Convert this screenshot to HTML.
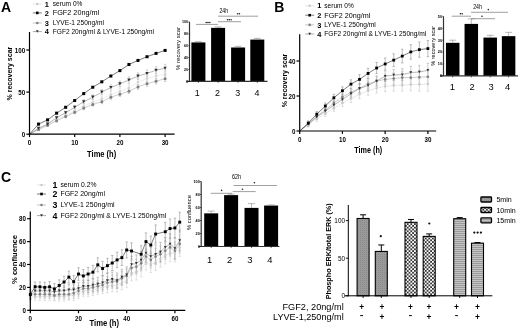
<!DOCTYPE html>
<html><head><meta charset="utf-8"><style>
html,body{margin:0;padding:0;background:#fff;width:520px;height:330px;overflow:hidden}
svg{display:block;will-change:transform}
text{font-family:"Liberation Sans", sans-serif}
</style></head><body>
<svg width="520" height="330" viewBox="0 0 520 330">
<rect width="520" height="330" fill="#fff"/>
<text x="0.90" y="12.14" font-size="14.0" font-weight="bold" text-anchor="start" fill="#000">A</text>
<line x1="38.54" y1="127.68" x2="38.54" y2="130.61" stroke="#d0d0d0" stroke-width="0.6"/>
<line x1="37.34" y1="127.68" x2="39.74" y2="127.68" stroke="#d0d0d0" stroke-width="0.6"/>
<line x1="37.34" y1="130.61" x2="39.74" y2="130.61" stroke="#d0d0d0" stroke-width="0.6"/>
<line x1="47.58" y1="123.27" x2="47.58" y2="126.61" stroke="#d0d0d0" stroke-width="0.6"/>
<line x1="46.38" y1="123.27" x2="48.78" y2="123.27" stroke="#d0d0d0" stroke-width="0.6"/>
<line x1="46.38" y1="126.61" x2="48.78" y2="126.61" stroke="#d0d0d0" stroke-width="0.6"/>
<line x1="56.62" y1="118.02" x2="56.62" y2="121.76" stroke="#d0d0d0" stroke-width="0.6"/>
<line x1="55.42" y1="118.02" x2="57.82" y2="118.02" stroke="#d0d0d0" stroke-width="0.6"/>
<line x1="55.42" y1="121.76" x2="57.82" y2="121.76" stroke="#d0d0d0" stroke-width="0.6"/>
<line x1="65.66" y1="113.18" x2="65.66" y2="117.33" stroke="#d0d0d0" stroke-width="0.6"/>
<line x1="64.46" y1="113.18" x2="66.86" y2="113.18" stroke="#d0d0d0" stroke-width="0.6"/>
<line x1="64.46" y1="117.33" x2="66.86" y2="117.33" stroke="#d0d0d0" stroke-width="0.6"/>
<line x1="74.70" y1="108.35" x2="74.70" y2="112.90" stroke="#d0d0d0" stroke-width="0.6"/>
<line x1="73.50" y1="108.35" x2="75.90" y2="108.35" stroke="#d0d0d0" stroke-width="0.6"/>
<line x1="73.50" y1="112.90" x2="75.90" y2="112.90" stroke="#d0d0d0" stroke-width="0.6"/>
<line x1="83.74" y1="103.52" x2="83.74" y2="108.47" stroke="#d0d0d0" stroke-width="0.6"/>
<line x1="82.54" y1="103.52" x2="84.94" y2="103.52" stroke="#d0d0d0" stroke-width="0.6"/>
<line x1="82.54" y1="108.47" x2="84.94" y2="108.47" stroke="#d0d0d0" stroke-width="0.6"/>
<line x1="92.78" y1="99.53" x2="92.78" y2="104.88" stroke="#d0d0d0" stroke-width="0.6"/>
<line x1="91.58" y1="99.53" x2="93.98" y2="99.53" stroke="#d0d0d0" stroke-width="0.6"/>
<line x1="91.58" y1="104.88" x2="93.98" y2="104.88" stroke="#d0d0d0" stroke-width="0.6"/>
<line x1="101.82" y1="95.96" x2="101.82" y2="101.72" stroke="#d0d0d0" stroke-width="0.6"/>
<line x1="100.62" y1="95.96" x2="103.02" y2="95.96" stroke="#d0d0d0" stroke-width="0.6"/>
<line x1="100.62" y1="101.72" x2="103.02" y2="101.72" stroke="#d0d0d0" stroke-width="0.6"/>
<line x1="110.86" y1="91.54" x2="110.86" y2="97.71" stroke="#d0d0d0" stroke-width="0.6"/>
<line x1="109.66" y1="91.54" x2="112.06" y2="91.54" stroke="#d0d0d0" stroke-width="0.6"/>
<line x1="109.66" y1="97.71" x2="112.06" y2="97.71" stroke="#d0d0d0" stroke-width="0.6"/>
<line x1="119.90" y1="87.97" x2="119.90" y2="94.54" stroke="#d0d0d0" stroke-width="0.6"/>
<line x1="118.70" y1="87.97" x2="121.10" y2="87.97" stroke="#d0d0d0" stroke-width="0.6"/>
<line x1="118.70" y1="94.54" x2="121.10" y2="94.54" stroke="#d0d0d0" stroke-width="0.6"/>
<line x1="128.94" y1="84.40" x2="128.94" y2="91.38" stroke="#d0d0d0" stroke-width="0.6"/>
<line x1="127.74" y1="84.40" x2="130.14" y2="84.40" stroke="#d0d0d0" stroke-width="0.6"/>
<line x1="127.74" y1="91.38" x2="130.14" y2="91.38" stroke="#d0d0d0" stroke-width="0.6"/>
<line x1="137.98" y1="78.31" x2="137.98" y2="85.68" stroke="#d0d0d0" stroke-width="0.6"/>
<line x1="136.78" y1="78.31" x2="139.18" y2="78.31" stroke="#d0d0d0" stroke-width="0.6"/>
<line x1="136.78" y1="85.68" x2="139.18" y2="85.68" stroke="#d0d0d0" stroke-width="0.6"/>
<line x1="147.02" y1="74.74" x2="147.02" y2="82.52" stroke="#d0d0d0" stroke-width="0.6"/>
<line x1="145.82" y1="74.74" x2="148.22" y2="74.74" stroke="#d0d0d0" stroke-width="0.6"/>
<line x1="145.82" y1="82.52" x2="148.22" y2="82.52" stroke="#d0d0d0" stroke-width="0.6"/>
<line x1="156.06" y1="72.01" x2="156.06" y2="80.19" stroke="#d0d0d0" stroke-width="0.6"/>
<line x1="154.86" y1="72.01" x2="157.26" y2="72.01" stroke="#d0d0d0" stroke-width="0.6"/>
<line x1="154.86" y1="80.19" x2="157.26" y2="80.19" stroke="#d0d0d0" stroke-width="0.6"/>
<line x1="165.10" y1="70.12" x2="165.10" y2="78.71" stroke="#d0d0d0" stroke-width="0.6"/>
<line x1="163.90" y1="70.12" x2="166.30" y2="70.12" stroke="#d0d0d0" stroke-width="0.6"/>
<line x1="163.90" y1="78.71" x2="166.30" y2="78.71" stroke="#d0d0d0" stroke-width="0.6"/>
<polyline points="29.50,134.20 38.54,129.15 47.58,124.94 56.62,119.89 65.66,115.25 74.70,110.62 83.74,105.99 92.78,102.20 101.82,98.84 110.86,94.63 119.90,91.26 128.94,87.89 137.98,82.00 147.02,78.63 156.06,76.10 165.10,74.42" fill="none" stroke="#dedede" stroke-width="0.5"/>
<line x1="38.54" y1="128.59" x2="38.54" y2="130.55" stroke="#b8b8b8" stroke-width="0.6"/>
<line x1="37.34" y1="128.59" x2="39.74" y2="128.59" stroke="#b8b8b8" stroke-width="0.6"/>
<line x1="37.34" y1="130.55" x2="39.74" y2="130.55" stroke="#b8b8b8" stroke-width="0.6"/>
<line x1="47.58" y1="124.25" x2="47.58" y2="126.47" stroke="#b8b8b8" stroke-width="0.6"/>
<line x1="46.38" y1="124.25" x2="48.78" y2="124.25" stroke="#b8b8b8" stroke-width="0.6"/>
<line x1="46.38" y1="126.47" x2="48.78" y2="126.47" stroke="#b8b8b8" stroke-width="0.6"/>
<line x1="56.62" y1="119.48" x2="56.62" y2="121.97" stroke="#b8b8b8" stroke-width="0.6"/>
<line x1="55.42" y1="119.48" x2="57.82" y2="119.48" stroke="#b8b8b8" stroke-width="0.6"/>
<line x1="55.42" y1="121.97" x2="57.82" y2="121.97" stroke="#b8b8b8" stroke-width="0.6"/>
<line x1="65.66" y1="115.14" x2="65.66" y2="117.90" stroke="#b8b8b8" stroke-width="0.6"/>
<line x1="64.46" y1="115.14" x2="66.86" y2="115.14" stroke="#b8b8b8" stroke-width="0.6"/>
<line x1="64.46" y1="117.90" x2="66.86" y2="117.90" stroke="#b8b8b8" stroke-width="0.6"/>
<line x1="74.70" y1="110.79" x2="74.70" y2="113.82" stroke="#b8b8b8" stroke-width="0.6"/>
<line x1="73.50" y1="110.79" x2="75.90" y2="110.79" stroke="#b8b8b8" stroke-width="0.6"/>
<line x1="73.50" y1="113.82" x2="75.90" y2="113.82" stroke="#b8b8b8" stroke-width="0.6"/>
<line x1="83.74" y1="106.45" x2="83.74" y2="109.75" stroke="#b8b8b8" stroke-width="0.6"/>
<line x1="82.54" y1="106.45" x2="84.94" y2="106.45" stroke="#b8b8b8" stroke-width="0.6"/>
<line x1="82.54" y1="109.75" x2="84.94" y2="109.75" stroke="#b8b8b8" stroke-width="0.6"/>
<line x1="92.78" y1="102.61" x2="92.78" y2="106.18" stroke="#b8b8b8" stroke-width="0.6"/>
<line x1="91.58" y1="102.61" x2="93.98" y2="102.61" stroke="#b8b8b8" stroke-width="0.6"/>
<line x1="91.58" y1="106.18" x2="93.98" y2="106.18" stroke="#b8b8b8" stroke-width="0.6"/>
<line x1="101.82" y1="99.86" x2="101.82" y2="103.70" stroke="#b8b8b8" stroke-width="0.6"/>
<line x1="100.62" y1="99.86" x2="103.02" y2="99.86" stroke="#b8b8b8" stroke-width="0.6"/>
<line x1="100.62" y1="103.70" x2="103.02" y2="103.70" stroke="#b8b8b8" stroke-width="0.6"/>
<line x1="110.86" y1="95.18" x2="110.86" y2="99.29" stroke="#b8b8b8" stroke-width="0.6"/>
<line x1="109.66" y1="95.18" x2="112.06" y2="95.18" stroke="#b8b8b8" stroke-width="0.6"/>
<line x1="109.66" y1="99.29" x2="112.06" y2="99.29" stroke="#b8b8b8" stroke-width="0.6"/>
<line x1="119.90" y1="92.02" x2="119.90" y2="96.39" stroke="#b8b8b8" stroke-width="0.6"/>
<line x1="118.70" y1="92.02" x2="121.10" y2="92.02" stroke="#b8b8b8" stroke-width="0.6"/>
<line x1="118.70" y1="96.39" x2="121.10" y2="96.39" stroke="#b8b8b8" stroke-width="0.6"/>
<line x1="128.94" y1="88.93" x2="128.94" y2="93.58" stroke="#b8b8b8" stroke-width="0.6"/>
<line x1="127.74" y1="88.93" x2="130.14" y2="88.93" stroke="#b8b8b8" stroke-width="0.6"/>
<line x1="127.74" y1="93.58" x2="130.14" y2="93.58" stroke="#b8b8b8" stroke-width="0.6"/>
<line x1="137.98" y1="84.42" x2="137.98" y2="89.34" stroke="#b8b8b8" stroke-width="0.6"/>
<line x1="136.78" y1="84.42" x2="139.18" y2="84.42" stroke="#b8b8b8" stroke-width="0.6"/>
<line x1="136.78" y1="89.34" x2="139.18" y2="89.34" stroke="#b8b8b8" stroke-width="0.6"/>
<line x1="147.02" y1="81.09" x2="147.02" y2="86.27" stroke="#b8b8b8" stroke-width="0.6"/>
<line x1="145.82" y1="81.09" x2="148.22" y2="81.09" stroke="#b8b8b8" stroke-width="0.6"/>
<line x1="145.82" y1="86.27" x2="148.22" y2="86.27" stroke="#b8b8b8" stroke-width="0.6"/>
<line x1="156.06" y1="78.59" x2="156.06" y2="84.05" stroke="#b8b8b8" stroke-width="0.6"/>
<line x1="154.86" y1="78.59" x2="157.26" y2="78.59" stroke="#b8b8b8" stroke-width="0.6"/>
<line x1="154.86" y1="84.05" x2="157.26" y2="84.05" stroke="#b8b8b8" stroke-width="0.6"/>
<line x1="165.10" y1="75.77" x2="165.10" y2="81.49" stroke="#b8b8b8" stroke-width="0.6"/>
<line x1="163.90" y1="75.77" x2="166.30" y2="75.77" stroke="#b8b8b8" stroke-width="0.6"/>
<line x1="163.90" y1="81.49" x2="166.30" y2="81.49" stroke="#b8b8b8" stroke-width="0.6"/>
<polyline points="29.50,134.20 38.54,129.57 47.58,125.36 56.62,120.73 65.66,116.52 74.70,112.31 83.74,108.10 92.78,104.39 101.82,101.78 110.86,97.24 119.90,94.20 128.94,91.26 137.98,86.88 147.02,83.68 156.06,81.32 165.10,78.63" fill="none" stroke="#9a9a9a" stroke-width="0.5"/>
<line x1="38.54" y1="127.26" x2="38.54" y2="129.35" stroke="#b8b8b8" stroke-width="0.6"/>
<line x1="37.34" y1="127.26" x2="39.74" y2="127.26" stroke="#b8b8b8" stroke-width="0.6"/>
<line x1="37.34" y1="129.35" x2="39.74" y2="129.35" stroke="#b8b8b8" stroke-width="0.6"/>
<line x1="47.58" y1="122.85" x2="47.58" y2="125.34" stroke="#b8b8b8" stroke-width="0.6"/>
<line x1="46.38" y1="122.85" x2="48.78" y2="122.85" stroke="#b8b8b8" stroke-width="0.6"/>
<line x1="46.38" y1="125.34" x2="48.78" y2="125.34" stroke="#b8b8b8" stroke-width="0.6"/>
<line x1="56.62" y1="116.33" x2="56.62" y2="119.23" stroke="#b8b8b8" stroke-width="0.6"/>
<line x1="55.42" y1="116.33" x2="57.82" y2="116.33" stroke="#b8b8b8" stroke-width="0.6"/>
<line x1="55.42" y1="119.23" x2="57.82" y2="119.23" stroke="#b8b8b8" stroke-width="0.6"/>
<line x1="65.66" y1="111.08" x2="65.66" y2="114.38" stroke="#b8b8b8" stroke-width="0.6"/>
<line x1="64.46" y1="111.08" x2="66.86" y2="111.08" stroke="#b8b8b8" stroke-width="0.6"/>
<line x1="64.46" y1="114.38" x2="66.86" y2="114.38" stroke="#b8b8b8" stroke-width="0.6"/>
<line x1="74.70" y1="105.40" x2="74.70" y2="109.11" stroke="#b8b8b8" stroke-width="0.6"/>
<line x1="73.50" y1="105.40" x2="75.90" y2="105.40" stroke="#b8b8b8" stroke-width="0.6"/>
<line x1="73.50" y1="109.11" x2="75.90" y2="109.11" stroke="#b8b8b8" stroke-width="0.6"/>
<line x1="83.74" y1="99.73" x2="83.74" y2="103.84" stroke="#b8b8b8" stroke-width="0.6"/>
<line x1="82.54" y1="99.73" x2="84.94" y2="99.73" stroke="#b8b8b8" stroke-width="0.6"/>
<line x1="82.54" y1="103.84" x2="84.94" y2="103.84" stroke="#b8b8b8" stroke-width="0.6"/>
<line x1="92.78" y1="94.90" x2="92.78" y2="99.41" stroke="#b8b8b8" stroke-width="0.6"/>
<line x1="91.58" y1="94.90" x2="93.98" y2="94.90" stroke="#b8b8b8" stroke-width="0.6"/>
<line x1="91.58" y1="99.41" x2="93.98" y2="99.41" stroke="#b8b8b8" stroke-width="0.6"/>
<line x1="101.82" y1="89.64" x2="101.82" y2="94.56" stroke="#b8b8b8" stroke-width="0.6"/>
<line x1="100.62" y1="89.64" x2="103.02" y2="89.64" stroke="#b8b8b8" stroke-width="0.6"/>
<line x1="100.62" y1="94.56" x2="103.02" y2="94.56" stroke="#b8b8b8" stroke-width="0.6"/>
<line x1="110.86" y1="84.81" x2="110.86" y2="90.13" stroke="#b8b8b8" stroke-width="0.6"/>
<line x1="109.66" y1="84.81" x2="112.06" y2="84.81" stroke="#b8b8b8" stroke-width="0.6"/>
<line x1="109.66" y1="90.13" x2="112.06" y2="90.13" stroke="#b8b8b8" stroke-width="0.6"/>
<line x1="119.90" y1="80.99" x2="119.90" y2="86.71" stroke="#b8b8b8" stroke-width="0.6"/>
<line x1="118.70" y1="80.99" x2="121.10" y2="80.99" stroke="#b8b8b8" stroke-width="0.6"/>
<line x1="118.70" y1="86.71" x2="121.10" y2="86.71" stroke="#b8b8b8" stroke-width="0.6"/>
<line x1="128.94" y1="76.99" x2="128.94" y2="83.12" stroke="#b8b8b8" stroke-width="0.6"/>
<line x1="127.74" y1="76.99" x2="130.14" y2="76.99" stroke="#b8b8b8" stroke-width="0.6"/>
<line x1="127.74" y1="83.12" x2="130.14" y2="83.12" stroke="#b8b8b8" stroke-width="0.6"/>
<line x1="137.98" y1="72.84" x2="137.98" y2="79.37" stroke="#b8b8b8" stroke-width="0.6"/>
<line x1="136.78" y1="72.84" x2="139.18" y2="72.84" stroke="#b8b8b8" stroke-width="0.6"/>
<line x1="136.78" y1="79.37" x2="139.18" y2="79.37" stroke="#b8b8b8" stroke-width="0.6"/>
<line x1="147.02" y1="69.94" x2="147.02" y2="76.88" stroke="#b8b8b8" stroke-width="0.6"/>
<line x1="145.82" y1="69.94" x2="148.22" y2="69.94" stroke="#b8b8b8" stroke-width="0.6"/>
<line x1="145.82" y1="76.88" x2="148.22" y2="76.88" stroke="#b8b8b8" stroke-width="0.6"/>
<line x1="156.06" y1="66.54" x2="156.06" y2="73.88" stroke="#b8b8b8" stroke-width="0.6"/>
<line x1="154.86" y1="66.54" x2="157.26" y2="66.54" stroke="#b8b8b8" stroke-width="0.6"/>
<line x1="154.86" y1="73.88" x2="157.26" y2="73.88" stroke="#b8b8b8" stroke-width="0.6"/>
<line x1="165.10" y1="64.31" x2="165.10" y2="72.06" stroke="#b8b8b8" stroke-width="0.6"/>
<line x1="163.90" y1="64.31" x2="166.30" y2="64.31" stroke="#b8b8b8" stroke-width="0.6"/>
<line x1="163.90" y1="72.06" x2="166.30" y2="72.06" stroke="#b8b8b8" stroke-width="0.6"/>
<polyline points="29.50,134.20 38.54,128.31 47.58,124.10 56.62,117.78 65.66,112.73 74.70,107.26 83.74,101.78 92.78,97.15 101.82,92.10 110.86,87.47 119.90,83.85 128.94,80.06 137.98,76.10 147.02,73.41 156.06,70.21 165.10,68.19" fill="none" stroke="#707070" stroke-width="0.5"/>
<line x1="38.54" y1="123.42" x2="38.54" y2="124.77" stroke="#999" stroke-width="0.6"/>
<line x1="37.34" y1="123.42" x2="39.74" y2="123.42" stroke="#999" stroke-width="0.6"/>
<line x1="37.34" y1="124.77" x2="39.74" y2="124.77" stroke="#999" stroke-width="0.6"/>
<line x1="47.58" y1="119.21" x2="47.58" y2="120.56" stroke="#999" stroke-width="0.6"/>
<line x1="46.38" y1="119.21" x2="48.78" y2="119.21" stroke="#999" stroke-width="0.6"/>
<line x1="46.38" y1="120.56" x2="48.78" y2="120.56" stroke="#999" stroke-width="0.6"/>
<line x1="56.62" y1="112.48" x2="56.62" y2="113.82" stroke="#999" stroke-width="0.6"/>
<line x1="55.42" y1="112.48" x2="57.82" y2="112.48" stroke="#999" stroke-width="0.6"/>
<line x1="55.42" y1="113.82" x2="57.82" y2="113.82" stroke="#999" stroke-width="0.6"/>
<line x1="65.66" y1="106.58" x2="65.66" y2="107.93" stroke="#999" stroke-width="0.6"/>
<line x1="64.46" y1="106.58" x2="66.86" y2="106.58" stroke="#999" stroke-width="0.6"/>
<line x1="64.46" y1="107.93" x2="66.86" y2="107.93" stroke="#999" stroke-width="0.6"/>
<line x1="74.70" y1="99.85" x2="74.70" y2="101.19" stroke="#999" stroke-width="0.6"/>
<line x1="73.50" y1="99.85" x2="75.90" y2="99.85" stroke="#999" stroke-width="0.6"/>
<line x1="73.50" y1="101.19" x2="75.90" y2="101.19" stroke="#999" stroke-width="0.6"/>
<line x1="83.74" y1="92.94" x2="83.74" y2="94.29" stroke="#999" stroke-width="0.6"/>
<line x1="82.54" y1="92.94" x2="84.94" y2="92.94" stroke="#999" stroke-width="0.6"/>
<line x1="82.54" y1="94.29" x2="84.94" y2="94.29" stroke="#999" stroke-width="0.6"/>
<line x1="92.78" y1="86.54" x2="92.78" y2="87.89" stroke="#999" stroke-width="0.6"/>
<line x1="91.58" y1="86.54" x2="93.98" y2="86.54" stroke="#999" stroke-width="0.6"/>
<line x1="91.58" y1="87.89" x2="93.98" y2="87.89" stroke="#999" stroke-width="0.6"/>
<line x1="101.82" y1="81.15" x2="101.82" y2="82.50" stroke="#999" stroke-width="0.6"/>
<line x1="100.62" y1="81.15" x2="103.02" y2="81.15" stroke="#999" stroke-width="0.6"/>
<line x1="100.62" y1="82.50" x2="103.02" y2="82.50" stroke="#999" stroke-width="0.6"/>
<line x1="110.86" y1="75.34" x2="110.86" y2="76.69" stroke="#999" stroke-width="0.6"/>
<line x1="109.66" y1="75.34" x2="112.06" y2="75.34" stroke="#999" stroke-width="0.6"/>
<line x1="109.66" y1="76.69" x2="112.06" y2="76.69" stroke="#999" stroke-width="0.6"/>
<line x1="119.90" y1="69.96" x2="119.90" y2="71.30" stroke="#999" stroke-width="0.6"/>
<line x1="118.70" y1="69.96" x2="121.10" y2="69.96" stroke="#999" stroke-width="0.6"/>
<line x1="118.70" y1="71.30" x2="121.10" y2="71.30" stroke="#999" stroke-width="0.6"/>
<line x1="128.94" y1="63.81" x2="128.94" y2="65.16" stroke="#999" stroke-width="0.6"/>
<line x1="127.74" y1="63.81" x2="130.14" y2="63.81" stroke="#999" stroke-width="0.6"/>
<line x1="127.74" y1="65.16" x2="130.14" y2="65.16" stroke="#999" stroke-width="0.6"/>
<line x1="137.98" y1="59.77" x2="137.98" y2="61.11" stroke="#999" stroke-width="0.6"/>
<line x1="136.78" y1="59.77" x2="139.18" y2="59.77" stroke="#999" stroke-width="0.6"/>
<line x1="136.78" y1="61.11" x2="139.18" y2="61.11" stroke="#999" stroke-width="0.6"/>
<line x1="147.02" y1="56.06" x2="147.02" y2="57.41" stroke="#999" stroke-width="0.6"/>
<line x1="145.82" y1="56.06" x2="148.22" y2="56.06" stroke="#999" stroke-width="0.6"/>
<line x1="145.82" y1="57.41" x2="148.22" y2="57.41" stroke="#999" stroke-width="0.6"/>
<line x1="156.06" y1="52.69" x2="156.06" y2="54.04" stroke="#999" stroke-width="0.6"/>
<line x1="154.86" y1="52.69" x2="157.26" y2="52.69" stroke="#999" stroke-width="0.6"/>
<line x1="154.86" y1="54.04" x2="157.26" y2="54.04" stroke="#999" stroke-width="0.6"/>
<line x1="165.10" y1="49.75" x2="165.10" y2="51.09" stroke="#999" stroke-width="0.6"/>
<line x1="163.90" y1="49.75" x2="166.30" y2="49.75" stroke="#999" stroke-width="0.6"/>
<line x1="163.90" y1="51.09" x2="166.30" y2="51.09" stroke="#999" stroke-width="0.6"/>
<polyline points="29.50,134.20 38.54,124.10 47.58,119.89 56.62,113.15 65.66,107.26 74.70,100.52 83.74,93.62 92.78,87.22 101.82,81.83 110.86,76.02 119.90,70.63 128.94,64.48 137.98,60.44 147.02,56.74 156.06,53.37 165.10,50.42" fill="none" stroke="#222" stroke-width="0.6"/>
<circle cx="38.54" cy="129.15" r="1.30" fill="#d4d4d4"/>
<circle cx="47.58" cy="124.94" r="1.30" fill="#d4d4d4"/>
<circle cx="56.62" cy="119.89" r="1.30" fill="#d4d4d4"/>
<circle cx="65.66" cy="115.25" r="1.30" fill="#d4d4d4"/>
<circle cx="74.70" cy="110.62" r="1.30" fill="#d4d4d4"/>
<circle cx="83.74" cy="105.99" r="1.30" fill="#d4d4d4"/>
<circle cx="92.78" cy="102.20" r="1.30" fill="#d4d4d4"/>
<circle cx="101.82" cy="98.84" r="1.30" fill="#d4d4d4"/>
<circle cx="110.86" cy="94.63" r="1.30" fill="#d4d4d4"/>
<circle cx="119.90" cy="91.26" r="1.30" fill="#d4d4d4"/>
<circle cx="128.94" cy="87.89" r="1.30" fill="#d4d4d4"/>
<circle cx="137.98" cy="82.00" r="1.30" fill="#d4d4d4"/>
<circle cx="147.02" cy="78.63" r="1.30" fill="#d4d4d4"/>
<circle cx="156.06" cy="76.10" r="1.30" fill="#d4d4d4"/>
<circle cx="165.10" cy="74.42" r="1.30" fill="#d4d4d4"/>
<circle cx="38.54" cy="129.57" r="1.50" fill="#808080"/>
<circle cx="47.58" cy="125.36" r="1.50" fill="#808080"/>
<circle cx="56.62" cy="120.73" r="1.50" fill="#808080"/>
<circle cx="65.66" cy="116.52" r="1.50" fill="#808080"/>
<circle cx="74.70" cy="112.31" r="1.50" fill="#808080"/>
<circle cx="83.74" cy="108.10" r="1.50" fill="#808080"/>
<circle cx="92.78" cy="104.39" r="1.50" fill="#808080"/>
<circle cx="101.82" cy="101.78" r="1.50" fill="#808080"/>
<circle cx="110.86" cy="97.24" r="1.50" fill="#808080"/>
<circle cx="119.90" cy="94.20" r="1.50" fill="#808080"/>
<circle cx="128.94" cy="91.26" r="1.50" fill="#808080"/>
<circle cx="137.98" cy="86.88" r="1.50" fill="#808080"/>
<circle cx="147.02" cy="83.68" r="1.50" fill="#808080"/>
<circle cx="156.06" cy="81.32" r="1.50" fill="#808080"/>
<circle cx="165.10" cy="78.63" r="1.50" fill="#808080"/>
<polygon points="36.84,126.78 40.24,126.78 38.54,129.84" fill="#303030"/>
<polygon points="45.88,122.57 49.28,122.57 47.58,125.63" fill="#303030"/>
<polygon points="54.92,116.25 58.32,116.25 56.62,119.31" fill="#303030"/>
<polygon points="63.96,111.20 67.36,111.20 65.66,114.26" fill="#303030"/>
<polygon points="73.00,105.73 76.40,105.73 74.70,108.79" fill="#303030"/>
<polygon points="82.04,100.25 85.44,100.25 83.74,103.31" fill="#303030"/>
<polygon points="91.08,95.62 94.48,95.62 92.78,98.68" fill="#303030"/>
<polygon points="100.12,90.57 103.52,90.57 101.82,93.63" fill="#303030"/>
<polygon points="109.16,85.94 112.56,85.94 110.86,89.00" fill="#303030"/>
<polygon points="118.20,82.32 121.60,82.32 119.90,85.38" fill="#303030"/>
<polygon points="127.24,78.53 130.64,78.53 128.94,81.59" fill="#303030"/>
<polygon points="136.28,74.57 139.68,74.57 137.98,77.63" fill="#303030"/>
<polygon points="145.32,71.88 148.72,71.88 147.02,74.94" fill="#303030"/>
<polygon points="154.36,68.68 157.76,68.68 156.06,71.74" fill="#303030"/>
<polygon points="163.40,66.66 166.80,66.66 165.10,69.72" fill="#303030"/>
<rect x="37.04" y="122.60" width="3.00" height="3.00" fill="#000"/>
<rect x="46.08" y="118.39" width="3.00" height="3.00" fill="#000"/>
<rect x="55.12" y="111.65" width="3.00" height="3.00" fill="#000"/>
<rect x="64.16" y="105.76" width="3.00" height="3.00" fill="#000"/>
<rect x="73.20" y="99.02" width="3.00" height="3.00" fill="#000"/>
<rect x="82.24" y="92.12" width="3.00" height="3.00" fill="#000"/>
<rect x="91.28" y="85.72" width="3.00" height="3.00" fill="#000"/>
<rect x="100.32" y="80.33" width="3.00" height="3.00" fill="#000"/>
<rect x="109.36" y="74.52" width="3.00" height="3.00" fill="#000"/>
<rect x="118.40" y="69.13" width="3.00" height="3.00" fill="#000"/>
<rect x="127.44" y="62.98" width="3.00" height="3.00" fill="#000"/>
<rect x="136.48" y="58.94" width="3.00" height="3.00" fill="#000"/>
<rect x="145.52" y="55.24" width="3.00" height="3.00" fill="#000"/>
<rect x="154.56" y="51.87" width="3.00" height="3.00" fill="#000"/>
<rect x="163.60" y="48.92" width="3.00" height="3.00" fill="#000"/>
<line x1="29.50" y1="32.00" x2="29.50" y2="134.80" stroke="#000" stroke-width="1.2"/>
<line x1="28.90" y1="134.20" x2="174.60" y2="134.20" stroke="#000" stroke-width="1.2"/>
<line x1="26.30" y1="134.20" x2="29.50" y2="134.20" stroke="#000" stroke-width="1.2"/>
<text x="25.20" y="136.90" font-size="7.5" font-weight="bold" text-anchor="end" fill="#000" textLength="3.45" lengthAdjust="spacingAndGlyphs">0</text>
<line x1="26.30" y1="92.10" x2="29.50" y2="92.10" stroke="#000" stroke-width="1.2"/>
<text x="25.20" y="94.80" font-size="7.5" font-weight="bold" text-anchor="end" fill="#000" textLength="6.90" lengthAdjust="spacingAndGlyphs">50</text>
<line x1="26.30" y1="50.00" x2="29.50" y2="50.00" stroke="#000" stroke-width="1.2"/>
<text x="25.20" y="52.70" font-size="7.5" font-weight="bold" text-anchor="end" fill="#000" textLength="10.35" lengthAdjust="spacingAndGlyphs">100</text>
<line x1="29.50" y1="134.20" x2="29.50" y2="137.10" stroke="#000" stroke-width="1.2"/>
<text x="29.50" y="145.20" font-size="7.5" font-weight="bold" text-anchor="middle" fill="#000" textLength="3.45" lengthAdjust="spacingAndGlyphs">0</text>
<line x1="74.70" y1="134.20" x2="74.70" y2="137.10" stroke="#000" stroke-width="1.2"/>
<text x="74.70" y="145.20" font-size="7.5" font-weight="bold" text-anchor="middle" fill="#000" textLength="6.90" lengthAdjust="spacingAndGlyphs">10</text>
<line x1="119.90" y1="134.20" x2="119.90" y2="137.10" stroke="#000" stroke-width="1.2"/>
<text x="119.90" y="145.20" font-size="7.5" font-weight="bold" text-anchor="middle" fill="#000" textLength="6.90" lengthAdjust="spacingAndGlyphs">20</text>
<line x1="165.10" y1="134.20" x2="165.10" y2="137.10" stroke="#000" stroke-width="1.2"/>
<text x="165.10" y="145.20" font-size="7.5" font-weight="bold" text-anchor="middle" fill="#000" textLength="6.90" lengthAdjust="spacingAndGlyphs">30</text>
<text x="101.65" y="156.74" font-size="9.0" font-weight="bold" text-anchor="middle" fill="#000" textLength="29.10" lengthAdjust="spacingAndGlyphs">Time (h)</text>
<text x="8.90" y="76.34" font-size="7.6" font-weight="bold" text-anchor="middle" fill="#000" transform="rotate(-90 8.90 73.60)" textLength="53.70" lengthAdjust="spacingAndGlyphs">% recovery scar</text>
<line x1="32.80" y1="4.00" x2="41.80" y2="4.00" stroke="#d0d0d0" stroke-width="0.6"/>
<circle cx="37.30" cy="4.00" r="1.20" fill="#c8c8c8"/>
<text x="44.80" y="6.66" font-size="7.4" font-weight="bold" text-anchor="start" fill="#000">1</text>
<text x="52.80" y="6.38" font-size="6.6" font-weight="normal" text-anchor="start" fill="#000" textLength="29.60" lengthAdjust="spacingAndGlyphs">serum 0%</text>
<line x1="32.80" y1="12.90" x2="41.80" y2="12.90" stroke="#222" stroke-width="0.6"/>
<rect x="36.00" y="11.60" width="2.60" height="2.60" fill="#000"/>
<text x="44.80" y="15.56" font-size="7.4" font-weight="bold" text-anchor="start" fill="#000">2</text>
<text x="52.80" y="15.28" font-size="6.6" font-weight="normal" text-anchor="start" fill="#000" textLength="46.40" lengthAdjust="spacingAndGlyphs">FGF2 20ng/ml</text>
<line x1="32.80" y1="23.00" x2="41.80" y2="23.00" stroke="#9a9a9a" stroke-width="0.6"/>
<circle cx="37.30" cy="23.00" r="1.30" fill="#808080"/>
<text x="44.80" y="25.66" font-size="7.4" font-weight="bold" text-anchor="start" fill="#000">3</text>
<text x="52.80" y="25.38" font-size="6.6" font-weight="normal" text-anchor="start" fill="#000" textLength="51.20" lengthAdjust="spacingAndGlyphs">LYVE-1 250ng/ml</text>
<line x1="32.80" y1="31.60" x2="41.80" y2="31.60" stroke="#707070" stroke-width="0.6"/>
<polygon points="35.90,30.34 38.70,30.34 37.30,32.86" fill="#303030"/>
<text x="44.80" y="34.26" font-size="7.4" font-weight="bold" text-anchor="start" fill="#000">4</text>
<text x="52.80" y="33.98" font-size="6.6" font-weight="normal" text-anchor="start" fill="#000" textLength="101.20" lengthAdjust="spacingAndGlyphs">FGF2 20ng/ml &amp; LYVE-1 250ng/ml</text>
<rect x="191.40" y="42.43" width="14.00" height="38.97" fill="#000"/>
<line x1="198.40" y1="41.71" x2="198.40" y2="42.43" stroke="#888" stroke-width="0.6"/>
<line x1="194.90" y1="41.71" x2="201.90" y2="41.71" stroke="#888" stroke-width="0.6"/>
<rect x="211.10" y="27.85" width="14.00" height="53.55" fill="#000"/>
<line x1="218.10" y1="26.96" x2="218.10" y2="27.85" stroke="#888" stroke-width="0.6"/>
<line x1="214.60" y1="26.96" x2="221.60" y2="26.96" stroke="#888" stroke-width="0.6"/>
<rect x="231.10" y="47.49" width="14.00" height="33.91" fill="#000"/>
<line x1="238.10" y1="46.30" x2="238.10" y2="47.49" stroke="#888" stroke-width="0.6"/>
<line x1="234.60" y1="46.30" x2="241.60" y2="46.30" stroke="#888" stroke-width="0.6"/>
<rect x="250.30" y="39.57" width="14.00" height="41.83" fill="#000"/>
<line x1="257.30" y1="38.38" x2="257.30" y2="39.57" stroke="#888" stroke-width="0.6"/>
<line x1="253.80" y1="38.38" x2="260.80" y2="38.38" stroke="#888" stroke-width="0.6"/>
<line x1="189.50" y1="21.90" x2="189.50" y2="81.40" stroke="#333" stroke-width="1.2"/>
<line x1="186.50" y1="81.40" x2="267.50" y2="81.40" stroke="#333" stroke-width="1.2"/>
<line x1="188.30" y1="81.40" x2="189.50" y2="81.40" stroke="#000" stroke-width="0.6"/>
<text x="188.10" y="82.70" font-size="3.6" font-weight="bold" text-anchor="end" fill="#000">0</text>
<line x1="188.30" y1="69.50" x2="189.50" y2="69.50" stroke="#000" stroke-width="0.6"/>
<text x="188.10" y="70.80" font-size="3.6" font-weight="bold" text-anchor="end" fill="#000">20</text>
<line x1="188.30" y1="57.60" x2="189.50" y2="57.60" stroke="#000" stroke-width="0.6"/>
<text x="188.10" y="58.90" font-size="3.6" font-weight="bold" text-anchor="end" fill="#000">40</text>
<line x1="188.30" y1="45.70" x2="189.50" y2="45.70" stroke="#000" stroke-width="0.6"/>
<text x="188.10" y="47.00" font-size="3.6" font-weight="bold" text-anchor="end" fill="#000">60</text>
<line x1="188.30" y1="33.80" x2="189.50" y2="33.80" stroke="#000" stroke-width="0.6"/>
<text x="188.10" y="35.10" font-size="3.6" font-weight="bold" text-anchor="end" fill="#000">80</text>
<line x1="188.30" y1="21.90" x2="189.50" y2="21.90" stroke="#000" stroke-width="0.6"/>
<text x="188.10" y="23.20" font-size="3.6" font-weight="bold" text-anchor="end" fill="#000">100</text>
<line x1="198.40" y1="81.40" x2="198.40" y2="82.90" stroke="#000" stroke-width="0.6"/>
<line x1="218.10" y1="81.40" x2="218.10" y2="82.90" stroke="#000" stroke-width="0.6"/>
<line x1="238.10" y1="81.40" x2="238.10" y2="82.90" stroke="#000" stroke-width="0.6"/>
<line x1="257.30" y1="81.40" x2="257.30" y2="82.90" stroke="#000" stroke-width="0.6"/>
<text x="197.30" y="95.90" font-size="8.9" font-weight="normal" text-anchor="middle" fill="#000">1</text>
<text x="217.50" y="95.90" font-size="8.9" font-weight="normal" text-anchor="middle" fill="#000">2</text>
<text x="237.70" y="95.90" font-size="8.9" font-weight="normal" text-anchor="middle" fill="#000">3</text>
<text x="257.00" y="95.90" font-size="8.9" font-weight="normal" text-anchor="middle" fill="#000">4</text>
<text x="178.30" y="50.56" font-size="6.0" font-weight="normal" text-anchor="middle" fill="#000" transform="rotate(-90 178.30 48.40)" textLength="43.00" lengthAdjust="spacingAndGlyphs">% recovery scar</text>
<text x="223.80" y="12.55" font-size="6.8" font-weight="normal" text-anchor="middle" fill="#000" textLength="8.60" lengthAdjust="spacingAndGlyphs">24h</text>
<line x1="196.00" y1="24.40" x2="218.00" y2="24.40" stroke="#777" stroke-width="0.7"/>
<circle cx="206.20" cy="22.50" r="0.80" fill="#222"/>
<circle cx="208.00" cy="22.50" r="0.80" fill="#222"/>
<circle cx="209.80" cy="22.50" r="0.80" fill="#222"/>
<line x1="218.00" y1="21.70" x2="241.00" y2="21.70" stroke="#777" stroke-width="0.7"/>
<circle cx="227.50" cy="19.80" r="0.80" fill="#222"/>
<circle cx="229.30" cy="19.80" r="0.80" fill="#222"/>
<circle cx="231.10" cy="19.80" r="0.80" fill="#222"/>
<line x1="218.00" y1="16.20" x2="258.00" y2="16.20" stroke="#777" stroke-width="0.7"/>
<circle cx="237.60" cy="13.80" r="0.80" fill="#222"/>
<circle cx="239.40" cy="13.80" r="0.80" fill="#222"/>
<text x="274.20" y="11.84" font-size="14.0" font-weight="bold" text-anchor="start" fill="#000">B</text>
<line x1="308.25" y1="122.78" x2="308.25" y2="126.97" stroke="#c8c8c8" stroke-width="0.6"/>
<line x1="307.05" y1="122.78" x2="309.45" y2="122.78" stroke="#c8c8c8" stroke-width="0.6"/>
<line x1="307.05" y1="126.97" x2="309.45" y2="126.97" stroke="#c8c8c8" stroke-width="0.6"/>
<line x1="316.79" y1="116.30" x2="316.79" y2="121.20" stroke="#c8c8c8" stroke-width="0.6"/>
<line x1="315.59" y1="116.30" x2="317.99" y2="116.30" stroke="#c8c8c8" stroke-width="0.6"/>
<line x1="315.59" y1="121.20" x2="317.99" y2="121.20" stroke="#c8c8c8" stroke-width="0.6"/>
<line x1="325.34" y1="110.70" x2="325.34" y2="116.30" stroke="#c8c8c8" stroke-width="0.6"/>
<line x1="324.14" y1="110.70" x2="326.54" y2="110.70" stroke="#c8c8c8" stroke-width="0.6"/>
<line x1="324.14" y1="116.30" x2="326.54" y2="116.30" stroke="#c8c8c8" stroke-width="0.6"/>
<line x1="333.88" y1="105.10" x2="333.88" y2="111.40" stroke="#c8c8c8" stroke-width="0.6"/>
<line x1="332.68" y1="105.10" x2="335.08" y2="105.10" stroke="#c8c8c8" stroke-width="0.6"/>
<line x1="332.68" y1="111.40" x2="335.08" y2="111.40" stroke="#c8c8c8" stroke-width="0.6"/>
<line x1="342.43" y1="99.50" x2="342.43" y2="106.50" stroke="#c8c8c8" stroke-width="0.6"/>
<line x1="341.23" y1="99.50" x2="343.63" y2="99.50" stroke="#c8c8c8" stroke-width="0.6"/>
<line x1="341.23" y1="106.50" x2="343.63" y2="106.50" stroke="#c8c8c8" stroke-width="0.6"/>
<line x1="350.98" y1="94.78" x2="350.98" y2="102.47" stroke="#c8c8c8" stroke-width="0.6"/>
<line x1="349.78" y1="94.78" x2="352.18" y2="94.78" stroke="#c8c8c8" stroke-width="0.6"/>
<line x1="349.78" y1="102.47" x2="352.18" y2="102.47" stroke="#c8c8c8" stroke-width="0.6"/>
<line x1="359.52" y1="90.05" x2="359.52" y2="98.45" stroke="#c8c8c8" stroke-width="0.6"/>
<line x1="358.32" y1="90.05" x2="360.72" y2="90.05" stroke="#c8c8c8" stroke-width="0.6"/>
<line x1="358.32" y1="98.45" x2="360.72" y2="98.45" stroke="#c8c8c8" stroke-width="0.6"/>
<line x1="368.07" y1="86.20" x2="368.07" y2="95.30" stroke="#c8c8c8" stroke-width="0.6"/>
<line x1="366.87" y1="86.20" x2="369.27" y2="86.20" stroke="#c8c8c8" stroke-width="0.6"/>
<line x1="366.87" y1="95.30" x2="369.27" y2="95.30" stroke="#c8c8c8" stroke-width="0.6"/>
<line x1="376.61" y1="83.22" x2="376.61" y2="93.03" stroke="#c8c8c8" stroke-width="0.6"/>
<line x1="375.41" y1="83.22" x2="377.81" y2="83.22" stroke="#c8c8c8" stroke-width="0.6"/>
<line x1="375.41" y1="93.03" x2="377.81" y2="93.03" stroke="#c8c8c8" stroke-width="0.6"/>
<line x1="385.16" y1="81.12" x2="385.16" y2="91.62" stroke="#c8c8c8" stroke-width="0.6"/>
<line x1="383.96" y1="81.12" x2="386.36" y2="81.12" stroke="#c8c8c8" stroke-width="0.6"/>
<line x1="383.96" y1="91.62" x2="386.36" y2="91.62" stroke="#c8c8c8" stroke-width="0.6"/>
<line x1="393.71" y1="79.90" x2="393.71" y2="91.10" stroke="#c8c8c8" stroke-width="0.6"/>
<line x1="392.51" y1="79.90" x2="394.91" y2="79.90" stroke="#c8c8c8" stroke-width="0.6"/>
<line x1="392.51" y1="91.10" x2="394.91" y2="91.10" stroke="#c8c8c8" stroke-width="0.6"/>
<line x1="402.25" y1="79.20" x2="402.25" y2="91.10" stroke="#c8c8c8" stroke-width="0.6"/>
<line x1="401.05" y1="79.20" x2="403.45" y2="79.20" stroke="#c8c8c8" stroke-width="0.6"/>
<line x1="401.05" y1="91.10" x2="403.45" y2="91.10" stroke="#c8c8c8" stroke-width="0.6"/>
<line x1="410.80" y1="78.32" x2="410.80" y2="90.93" stroke="#c8c8c8" stroke-width="0.6"/>
<line x1="409.60" y1="78.32" x2="412.00" y2="78.32" stroke="#c8c8c8" stroke-width="0.6"/>
<line x1="409.60" y1="90.93" x2="412.00" y2="90.93" stroke="#c8c8c8" stroke-width="0.6"/>
<line x1="419.34" y1="77.80" x2="419.34" y2="91.10" stroke="#c8c8c8" stroke-width="0.6"/>
<line x1="418.14" y1="77.80" x2="420.54" y2="77.80" stroke="#c8c8c8" stroke-width="0.6"/>
<line x1="418.14" y1="91.10" x2="420.54" y2="91.10" stroke="#c8c8c8" stroke-width="0.6"/>
<line x1="427.89" y1="77.10" x2="427.89" y2="91.10" stroke="#c8c8c8" stroke-width="0.6"/>
<line x1="426.69" y1="77.10" x2="429.09" y2="77.10" stroke="#c8c8c8" stroke-width="0.6"/>
<line x1="426.69" y1="91.10" x2="429.09" y2="91.10" stroke="#c8c8c8" stroke-width="0.6"/>
<polyline points="299.70,131.00 308.25,124.88 316.79,118.75 325.34,113.50 333.88,108.25 342.43,103.00 350.98,98.62 359.52,94.25 368.07,90.75 376.61,88.12 385.16,86.38 393.71,85.50 402.25,85.15 410.80,84.62 419.34,84.45 427.89,84.10" fill="none" stroke="#d0d0d0" stroke-width="0.5"/>
<line x1="308.25" y1="121.90" x2="308.25" y2="126.10" stroke="#bdbdbd" stroke-width="0.6"/>
<line x1="307.05" y1="121.90" x2="309.45" y2="121.90" stroke="#bdbdbd" stroke-width="0.6"/>
<line x1="307.05" y1="126.10" x2="309.45" y2="126.10" stroke="#bdbdbd" stroke-width="0.6"/>
<line x1="316.79" y1="113.67" x2="316.79" y2="118.58" stroke="#bdbdbd" stroke-width="0.6"/>
<line x1="315.59" y1="113.67" x2="317.99" y2="113.67" stroke="#bdbdbd" stroke-width="0.6"/>
<line x1="315.59" y1="118.58" x2="317.99" y2="118.58" stroke="#bdbdbd" stroke-width="0.6"/>
<line x1="325.34" y1="107.20" x2="325.34" y2="112.80" stroke="#bdbdbd" stroke-width="0.6"/>
<line x1="324.14" y1="107.20" x2="326.54" y2="107.20" stroke="#bdbdbd" stroke-width="0.6"/>
<line x1="324.14" y1="112.80" x2="326.54" y2="112.80" stroke="#bdbdbd" stroke-width="0.6"/>
<line x1="333.88" y1="99.85" x2="333.88" y2="106.15" stroke="#bdbdbd" stroke-width="0.6"/>
<line x1="332.68" y1="99.85" x2="335.08" y2="99.85" stroke="#bdbdbd" stroke-width="0.6"/>
<line x1="332.68" y1="106.15" x2="335.08" y2="106.15" stroke="#bdbdbd" stroke-width="0.6"/>
<line x1="342.43" y1="93.38" x2="342.43" y2="100.38" stroke="#bdbdbd" stroke-width="0.6"/>
<line x1="341.23" y1="93.38" x2="343.63" y2="93.38" stroke="#bdbdbd" stroke-width="0.6"/>
<line x1="341.23" y1="100.38" x2="343.63" y2="100.38" stroke="#bdbdbd" stroke-width="0.6"/>
<line x1="350.98" y1="88.65" x2="350.98" y2="96.35" stroke="#bdbdbd" stroke-width="0.6"/>
<line x1="349.78" y1="88.65" x2="352.18" y2="88.65" stroke="#bdbdbd" stroke-width="0.6"/>
<line x1="349.78" y1="96.35" x2="352.18" y2="96.35" stroke="#bdbdbd" stroke-width="0.6"/>
<line x1="359.52" y1="83.93" x2="359.52" y2="92.32" stroke="#bdbdbd" stroke-width="0.6"/>
<line x1="358.32" y1="83.93" x2="360.72" y2="83.93" stroke="#bdbdbd" stroke-width="0.6"/>
<line x1="358.32" y1="92.32" x2="360.72" y2="92.32" stroke="#bdbdbd" stroke-width="0.6"/>
<line x1="368.07" y1="79.20" x2="368.07" y2="88.30" stroke="#bdbdbd" stroke-width="0.6"/>
<line x1="366.87" y1="79.20" x2="369.27" y2="79.20" stroke="#bdbdbd" stroke-width="0.6"/>
<line x1="366.87" y1="88.30" x2="369.27" y2="88.30" stroke="#bdbdbd" stroke-width="0.6"/>
<line x1="376.61" y1="76.22" x2="376.61" y2="86.03" stroke="#bdbdbd" stroke-width="0.6"/>
<line x1="375.41" y1="76.22" x2="377.81" y2="76.22" stroke="#bdbdbd" stroke-width="0.6"/>
<line x1="375.41" y1="86.03" x2="377.81" y2="86.03" stroke="#bdbdbd" stroke-width="0.6"/>
<line x1="385.16" y1="74.12" x2="385.16" y2="84.62" stroke="#bdbdbd" stroke-width="0.6"/>
<line x1="383.96" y1="74.12" x2="386.36" y2="74.12" stroke="#bdbdbd" stroke-width="0.6"/>
<line x1="383.96" y1="84.62" x2="386.36" y2="84.62" stroke="#bdbdbd" stroke-width="0.6"/>
<line x1="393.71" y1="72.90" x2="393.71" y2="84.10" stroke="#bdbdbd" stroke-width="0.6"/>
<line x1="392.51" y1="72.90" x2="394.91" y2="72.90" stroke="#bdbdbd" stroke-width="0.6"/>
<line x1="392.51" y1="84.10" x2="394.91" y2="84.10" stroke="#bdbdbd" stroke-width="0.6"/>
<line x1="402.25" y1="71.68" x2="402.25" y2="83.57" stroke="#bdbdbd" stroke-width="0.6"/>
<line x1="401.05" y1="71.68" x2="403.45" y2="71.68" stroke="#bdbdbd" stroke-width="0.6"/>
<line x1="401.05" y1="83.57" x2="403.45" y2="83.57" stroke="#bdbdbd" stroke-width="0.6"/>
<line x1="410.80" y1="71.32" x2="410.80" y2="83.93" stroke="#bdbdbd" stroke-width="0.6"/>
<line x1="409.60" y1="71.32" x2="412.00" y2="71.32" stroke="#bdbdbd" stroke-width="0.6"/>
<line x1="409.60" y1="83.93" x2="412.00" y2="83.93" stroke="#bdbdbd" stroke-width="0.6"/>
<line x1="419.34" y1="70.45" x2="419.34" y2="83.75" stroke="#bdbdbd" stroke-width="0.6"/>
<line x1="418.14" y1="70.45" x2="420.54" y2="70.45" stroke="#bdbdbd" stroke-width="0.6"/>
<line x1="418.14" y1="83.75" x2="420.54" y2="83.75" stroke="#bdbdbd" stroke-width="0.6"/>
<line x1="427.89" y1="69.75" x2="427.89" y2="83.75" stroke="#bdbdbd" stroke-width="0.6"/>
<line x1="426.69" y1="69.75" x2="429.09" y2="69.75" stroke="#bdbdbd" stroke-width="0.6"/>
<line x1="426.69" y1="83.75" x2="429.09" y2="83.75" stroke="#bdbdbd" stroke-width="0.6"/>
<polyline points="299.70,131.00 308.25,124.00 316.79,116.12 325.34,110.00 333.88,103.00 342.43,96.88 350.98,92.50 359.52,88.12 368.07,83.75 376.61,81.12 385.16,79.38 393.71,78.50 402.25,77.62 410.80,77.62 419.34,77.10 427.89,76.75" fill="none" stroke="#9a9a9a" stroke-width="0.5"/>
<line x1="308.25" y1="121.90" x2="308.25" y2="126.10" stroke="#a8a8a8" stroke-width="0.6"/>
<line x1="307.05" y1="121.90" x2="309.45" y2="121.90" stroke="#a8a8a8" stroke-width="0.6"/>
<line x1="307.05" y1="126.10" x2="309.45" y2="126.10" stroke="#a8a8a8" stroke-width="0.6"/>
<line x1="316.79" y1="114.55" x2="316.79" y2="119.45" stroke="#a8a8a8" stroke-width="0.6"/>
<line x1="315.59" y1="114.55" x2="317.99" y2="114.55" stroke="#a8a8a8" stroke-width="0.6"/>
<line x1="315.59" y1="119.45" x2="317.99" y2="119.45" stroke="#a8a8a8" stroke-width="0.6"/>
<line x1="325.34" y1="108.25" x2="325.34" y2="113.85" stroke="#a8a8a8" stroke-width="0.6"/>
<line x1="324.14" y1="108.25" x2="326.54" y2="108.25" stroke="#a8a8a8" stroke-width="0.6"/>
<line x1="324.14" y1="113.85" x2="326.54" y2="113.85" stroke="#a8a8a8" stroke-width="0.6"/>
<line x1="333.88" y1="101.95" x2="333.88" y2="108.25" stroke="#a8a8a8" stroke-width="0.6"/>
<line x1="332.68" y1="101.95" x2="335.08" y2="101.95" stroke="#a8a8a8" stroke-width="0.6"/>
<line x1="332.68" y1="108.25" x2="335.08" y2="108.25" stroke="#a8a8a8" stroke-width="0.6"/>
<line x1="342.43" y1="96.00" x2="342.43" y2="103.00" stroke="#a8a8a8" stroke-width="0.6"/>
<line x1="341.23" y1="96.00" x2="343.63" y2="96.00" stroke="#a8a8a8" stroke-width="0.6"/>
<line x1="341.23" y1="103.00" x2="343.63" y2="103.00" stroke="#a8a8a8" stroke-width="0.6"/>
<line x1="350.98" y1="89.88" x2="350.98" y2="97.57" stroke="#a8a8a8" stroke-width="0.6"/>
<line x1="349.78" y1="89.88" x2="352.18" y2="89.88" stroke="#a8a8a8" stroke-width="0.6"/>
<line x1="349.78" y1="97.57" x2="352.18" y2="97.57" stroke="#a8a8a8" stroke-width="0.6"/>
<line x1="359.52" y1="84.27" x2="359.52" y2="92.68" stroke="#a8a8a8" stroke-width="0.6"/>
<line x1="358.32" y1="84.27" x2="360.72" y2="84.27" stroke="#a8a8a8" stroke-width="0.6"/>
<line x1="358.32" y1="92.68" x2="360.72" y2="92.68" stroke="#a8a8a8" stroke-width="0.6"/>
<line x1="368.07" y1="80.95" x2="368.07" y2="90.05" stroke="#a8a8a8" stroke-width="0.6"/>
<line x1="366.87" y1="80.95" x2="369.27" y2="80.95" stroke="#a8a8a8" stroke-width="0.6"/>
<line x1="366.87" y1="90.05" x2="369.27" y2="90.05" stroke="#a8a8a8" stroke-width="0.6"/>
<line x1="376.61" y1="76.05" x2="376.61" y2="85.85" stroke="#a8a8a8" stroke-width="0.6"/>
<line x1="375.41" y1="76.05" x2="377.81" y2="76.05" stroke="#a8a8a8" stroke-width="0.6"/>
<line x1="375.41" y1="85.85" x2="377.81" y2="85.85" stroke="#a8a8a8" stroke-width="0.6"/>
<line x1="385.16" y1="70.98" x2="385.16" y2="81.47" stroke="#a8a8a8" stroke-width="0.6"/>
<line x1="383.96" y1="70.98" x2="386.36" y2="70.98" stroke="#a8a8a8" stroke-width="0.6"/>
<line x1="383.96" y1="81.47" x2="386.36" y2="81.47" stroke="#a8a8a8" stroke-width="0.6"/>
<line x1="393.71" y1="69.40" x2="393.71" y2="80.60" stroke="#a8a8a8" stroke-width="0.6"/>
<line x1="392.51" y1="69.40" x2="394.91" y2="69.40" stroke="#a8a8a8" stroke-width="0.6"/>
<line x1="392.51" y1="80.60" x2="394.91" y2="80.60" stroke="#a8a8a8" stroke-width="0.6"/>
<line x1="402.25" y1="68.70" x2="402.25" y2="80.60" stroke="#a8a8a8" stroke-width="0.6"/>
<line x1="401.05" y1="68.70" x2="403.45" y2="68.70" stroke="#a8a8a8" stroke-width="0.6"/>
<line x1="401.05" y1="80.60" x2="403.45" y2="80.60" stroke="#a8a8a8" stroke-width="0.6"/>
<line x1="410.80" y1="66.25" x2="410.80" y2="78.85" stroke="#a8a8a8" stroke-width="0.6"/>
<line x1="409.60" y1="66.25" x2="412.00" y2="66.25" stroke="#a8a8a8" stroke-width="0.6"/>
<line x1="409.60" y1="78.85" x2="412.00" y2="78.85" stroke="#a8a8a8" stroke-width="0.6"/>
<line x1="419.34" y1="65.38" x2="419.34" y2="78.67" stroke="#a8a8a8" stroke-width="0.6"/>
<line x1="418.14" y1="65.38" x2="420.54" y2="65.38" stroke="#a8a8a8" stroke-width="0.6"/>
<line x1="418.14" y1="78.67" x2="420.54" y2="78.67" stroke="#a8a8a8" stroke-width="0.6"/>
<line x1="427.89" y1="63.27" x2="427.89" y2="77.27" stroke="#a8a8a8" stroke-width="0.6"/>
<line x1="426.69" y1="63.27" x2="429.09" y2="63.27" stroke="#a8a8a8" stroke-width="0.6"/>
<line x1="426.69" y1="77.27" x2="429.09" y2="77.27" stroke="#a8a8a8" stroke-width="0.6"/>
<polyline points="299.70,131.00 308.25,124.00 316.79,117.00 325.34,111.05 333.88,105.10 342.43,99.50 350.98,93.72 359.52,88.47 368.07,85.50 376.61,80.95 385.16,76.22 393.71,75.00 402.25,74.65 410.80,72.55 419.34,72.02 427.89,70.27" fill="none" stroke="#707070" stroke-width="0.5"/>
<line x1="308.25" y1="120.95" x2="308.25" y2="125.30" stroke="#909090" stroke-width="0.6"/>
<line x1="307.05" y1="120.95" x2="309.45" y2="120.95" stroke="#909090" stroke-width="0.6"/>
<line x1="307.05" y1="125.30" x2="309.45" y2="125.30" stroke="#909090" stroke-width="0.6"/>
<line x1="316.79" y1="111.61" x2="316.79" y2="116.79" stroke="#909090" stroke-width="0.6"/>
<line x1="315.59" y1="111.61" x2="317.99" y2="111.61" stroke="#909090" stroke-width="0.6"/>
<line x1="315.59" y1="116.79" x2="317.99" y2="116.79" stroke="#909090" stroke-width="0.6"/>
<line x1="325.34" y1="102.97" x2="325.34" y2="108.98" stroke="#909090" stroke-width="0.6"/>
<line x1="324.14" y1="102.97" x2="326.54" y2="102.97" stroke="#909090" stroke-width="0.6"/>
<line x1="324.14" y1="108.98" x2="326.54" y2="108.98" stroke="#909090" stroke-width="0.6"/>
<line x1="333.88" y1="94.32" x2="333.88" y2="101.18" stroke="#909090" stroke-width="0.6"/>
<line x1="332.68" y1="94.32" x2="335.08" y2="94.32" stroke="#909090" stroke-width="0.6"/>
<line x1="332.68" y1="101.18" x2="335.08" y2="101.18" stroke="#909090" stroke-width="0.6"/>
<line x1="342.43" y1="86.90" x2="342.43" y2="94.60" stroke="#909090" stroke-width="0.6"/>
<line x1="341.23" y1="86.90" x2="343.63" y2="86.90" stroke="#909090" stroke-width="0.6"/>
<line x1="341.23" y1="94.60" x2="343.63" y2="94.60" stroke="#909090" stroke-width="0.6"/>
<line x1="350.98" y1="79.83" x2="350.98" y2="88.37" stroke="#909090" stroke-width="0.6"/>
<line x1="349.78" y1="79.83" x2="352.18" y2="79.83" stroke="#909090" stroke-width="0.6"/>
<line x1="349.78" y1="88.37" x2="352.18" y2="88.37" stroke="#909090" stroke-width="0.6"/>
<line x1="359.52" y1="74.69" x2="359.52" y2="84.06" stroke="#909090" stroke-width="0.6"/>
<line x1="358.32" y1="74.69" x2="360.72" y2="74.69" stroke="#909090" stroke-width="0.6"/>
<line x1="358.32" y1="84.06" x2="360.72" y2="84.06" stroke="#909090" stroke-width="0.6"/>
<line x1="368.07" y1="68.31" x2="368.07" y2="78.53" stroke="#909090" stroke-width="0.6"/>
<line x1="366.87" y1="68.31" x2="369.27" y2="68.31" stroke="#909090" stroke-width="0.6"/>
<line x1="366.87" y1="78.53" x2="369.27" y2="78.53" stroke="#909090" stroke-width="0.6"/>
<line x1="376.61" y1="62.47" x2="376.61" y2="73.53" stroke="#909090" stroke-width="0.6"/>
<line x1="375.41" y1="62.47" x2="377.81" y2="62.47" stroke="#909090" stroke-width="0.6"/>
<line x1="375.41" y1="73.53" x2="377.81" y2="73.53" stroke="#909090" stroke-width="0.6"/>
<line x1="385.16" y1="58.03" x2="385.16" y2="69.93" stroke="#909090" stroke-width="0.6"/>
<line x1="383.96" y1="58.03" x2="386.36" y2="58.03" stroke="#909090" stroke-width="0.6"/>
<line x1="383.96" y1="69.93" x2="386.36" y2="69.93" stroke="#909090" stroke-width="0.6"/>
<line x1="393.71" y1="53.75" x2="393.71" y2="66.50" stroke="#909090" stroke-width="0.6"/>
<line x1="392.51" y1="53.75" x2="394.91" y2="53.75" stroke="#909090" stroke-width="0.6"/>
<line x1="392.51" y1="66.50" x2="394.91" y2="66.50" stroke="#909090" stroke-width="0.6"/>
<line x1="402.25" y1="49.31" x2="402.25" y2="62.89" stroke="#909090" stroke-width="0.6"/>
<line x1="401.05" y1="49.31" x2="403.45" y2="49.31" stroke="#909090" stroke-width="0.6"/>
<line x1="401.05" y1="62.89" x2="403.45" y2="62.89" stroke="#909090" stroke-width="0.6"/>
<line x1="410.80" y1="44.69" x2="410.80" y2="59.11" stroke="#909090" stroke-width="0.6"/>
<line x1="409.60" y1="44.69" x2="412.00" y2="44.69" stroke="#909090" stroke-width="0.6"/>
<line x1="409.60" y1="59.11" x2="412.00" y2="59.11" stroke="#909090" stroke-width="0.6"/>
<line x1="419.34" y1="42.00" x2="419.34" y2="57.25" stroke="#909090" stroke-width="0.6"/>
<line x1="418.14" y1="42.00" x2="420.54" y2="42.00" stroke="#909090" stroke-width="0.6"/>
<line x1="418.14" y1="57.25" x2="420.54" y2="57.25" stroke="#909090" stroke-width="0.6"/>
<line x1="427.89" y1="40.52" x2="427.89" y2="56.62" stroke="#909090" stroke-width="0.6"/>
<line x1="426.69" y1="40.52" x2="429.09" y2="40.52" stroke="#909090" stroke-width="0.6"/>
<line x1="426.69" y1="56.62" x2="429.09" y2="56.62" stroke="#909090" stroke-width="0.6"/>
<polyline points="299.70,131.00 308.25,123.12 316.79,114.20 325.34,105.97 333.88,97.75 342.43,90.75 350.98,84.10 359.52,79.38 368.07,73.43 376.61,68.00 385.16,63.98 393.71,60.12 402.25,56.10 410.80,51.90 419.34,49.62 427.89,48.58" fill="none" stroke="#222" stroke-width="0.6"/>
<circle cx="308.25" cy="124.88" r="1.20" fill="#c8c8c8"/>
<circle cx="316.79" cy="118.75" r="1.20" fill="#c8c8c8"/>
<circle cx="325.34" cy="113.50" r="1.20" fill="#c8c8c8"/>
<circle cx="333.88" cy="108.25" r="1.20" fill="#c8c8c8"/>
<circle cx="342.43" cy="103.00" r="1.20" fill="#c8c8c8"/>
<circle cx="350.98" cy="98.62" r="1.20" fill="#c8c8c8"/>
<circle cx="359.52" cy="94.25" r="1.20" fill="#c8c8c8"/>
<circle cx="368.07" cy="90.75" r="1.20" fill="#c8c8c8"/>
<circle cx="376.61" cy="88.12" r="1.20" fill="#c8c8c8"/>
<circle cx="385.16" cy="86.38" r="1.20" fill="#c8c8c8"/>
<circle cx="393.71" cy="85.50" r="1.20" fill="#c8c8c8"/>
<circle cx="402.25" cy="85.15" r="1.20" fill="#c8c8c8"/>
<circle cx="410.80" cy="84.62" r="1.20" fill="#c8c8c8"/>
<circle cx="419.34" cy="84.45" r="1.20" fill="#c8c8c8"/>
<circle cx="427.89" cy="84.10" r="1.20" fill="#c8c8c8"/>
<circle cx="308.25" cy="124.00" r="1.30" fill="#808080"/>
<circle cx="316.79" cy="116.12" r="1.30" fill="#808080"/>
<circle cx="325.34" cy="110.00" r="1.30" fill="#808080"/>
<circle cx="333.88" cy="103.00" r="1.30" fill="#808080"/>
<circle cx="342.43" cy="96.88" r="1.30" fill="#808080"/>
<circle cx="350.98" cy="92.50" r="1.30" fill="#808080"/>
<circle cx="359.52" cy="88.12" r="1.30" fill="#808080"/>
<circle cx="368.07" cy="83.75" r="1.30" fill="#808080"/>
<circle cx="376.61" cy="81.12" r="1.30" fill="#808080"/>
<circle cx="385.16" cy="79.38" r="1.30" fill="#808080"/>
<circle cx="393.71" cy="78.50" r="1.30" fill="#808080"/>
<circle cx="402.25" cy="77.62" r="1.30" fill="#808080"/>
<circle cx="410.80" cy="77.62" r="1.30" fill="#808080"/>
<circle cx="419.34" cy="77.10" r="1.30" fill="#808080"/>
<circle cx="427.89" cy="76.75" r="1.30" fill="#808080"/>
<polygon points="306.85,122.74 309.65,122.74 308.25,125.26" fill="#303030"/>
<polygon points="315.39,115.74 318.19,115.74 316.79,118.26" fill="#303030"/>
<polygon points="323.94,109.79 326.74,109.79 325.34,112.31" fill="#303030"/>
<polygon points="332.48,103.84 335.28,103.84 333.88,106.36" fill="#303030"/>
<polygon points="341.03,98.24 343.83,98.24 342.43,100.76" fill="#303030"/>
<polygon points="349.58,92.46 352.38,92.46 350.98,94.98" fill="#303030"/>
<polygon points="358.12,87.21 360.92,87.21 359.52,89.73" fill="#303030"/>
<polygon points="366.67,84.24 369.47,84.24 368.07,86.76" fill="#303030"/>
<polygon points="375.21,79.69 378.01,79.69 376.61,82.21" fill="#303030"/>
<polygon points="383.76,74.96 386.56,74.96 385.16,77.48" fill="#303030"/>
<polygon points="392.31,73.74 395.11,73.74 393.71,76.26" fill="#303030"/>
<polygon points="400.85,73.39 403.65,73.39 402.25,75.91" fill="#303030"/>
<polygon points="409.40,71.29 412.20,71.29 410.80,73.81" fill="#303030"/>
<polygon points="417.94,70.76 420.74,70.76 419.34,73.28" fill="#303030"/>
<polygon points="426.49,69.01 429.29,69.01 427.89,71.53" fill="#303030"/>
<rect x="306.85" y="121.72" width="2.80" height="2.80" fill="#000"/>
<rect x="315.39" y="112.80" width="2.80" height="2.80" fill="#000"/>
<rect x="323.94" y="104.57" width="2.80" height="2.80" fill="#000"/>
<rect x="332.48" y="96.35" width="2.80" height="2.80" fill="#000"/>
<rect x="341.03" y="89.35" width="2.80" height="2.80" fill="#000"/>
<rect x="349.58" y="82.70" width="2.80" height="2.80" fill="#000"/>
<rect x="358.12" y="77.97" width="2.80" height="2.80" fill="#000"/>
<rect x="366.67" y="72.03" width="2.80" height="2.80" fill="#000"/>
<rect x="375.21" y="66.60" width="2.80" height="2.80" fill="#000"/>
<rect x="383.76" y="62.58" width="2.80" height="2.80" fill="#000"/>
<rect x="392.31" y="58.73" width="2.80" height="2.80" fill="#000"/>
<rect x="400.85" y="54.70" width="2.80" height="2.80" fill="#000"/>
<rect x="409.40" y="50.50" width="2.80" height="2.80" fill="#000"/>
<rect x="417.94" y="48.23" width="2.80" height="2.80" fill="#000"/>
<rect x="426.49" y="47.18" width="2.80" height="2.80" fill="#000"/>
<line x1="299.70" y1="34.20" x2="299.70" y2="131.60" stroke="#000" stroke-width="1.2"/>
<line x1="299.10" y1="131.00" x2="436.20" y2="131.00" stroke="#000" stroke-width="1.2"/>
<line x1="296.50" y1="131.00" x2="299.70" y2="131.00" stroke="#000" stroke-width="1.2"/>
<text x="295.40" y="133.70" font-size="7.5" font-weight="bold" text-anchor="end" fill="#000" textLength="3.45" lengthAdjust="spacingAndGlyphs">0</text>
<line x1="296.50" y1="96.00" x2="299.70" y2="96.00" stroke="#000" stroke-width="1.2"/>
<text x="295.40" y="98.70" font-size="7.5" font-weight="bold" text-anchor="end" fill="#000" textLength="6.90" lengthAdjust="spacingAndGlyphs">20</text>
<line x1="296.50" y1="61.00" x2="299.70" y2="61.00" stroke="#000" stroke-width="1.2"/>
<text x="295.40" y="63.70" font-size="7.5" font-weight="bold" text-anchor="end" fill="#000" textLength="6.90" lengthAdjust="spacingAndGlyphs">40</text>
<line x1="299.70" y1="131.00" x2="299.70" y2="133.90" stroke="#000" stroke-width="1.2"/>
<text x="299.70" y="142.30" font-size="7.5" font-weight="bold" text-anchor="middle" fill="#000" textLength="3.45" lengthAdjust="spacingAndGlyphs">0</text>
<line x1="342.43" y1="131.00" x2="342.43" y2="133.90" stroke="#000" stroke-width="1.2"/>
<text x="342.43" y="142.30" font-size="7.5" font-weight="bold" text-anchor="middle" fill="#000" textLength="6.90" lengthAdjust="spacingAndGlyphs">10</text>
<line x1="385.16" y1="131.00" x2="385.16" y2="133.90" stroke="#000" stroke-width="1.2"/>
<text x="385.16" y="142.30" font-size="7.5" font-weight="bold" text-anchor="middle" fill="#000" textLength="6.90" lengthAdjust="spacingAndGlyphs">20</text>
<line x1="427.89" y1="131.00" x2="427.89" y2="133.90" stroke="#000" stroke-width="1.2"/>
<text x="427.89" y="142.30" font-size="7.5" font-weight="bold" text-anchor="middle" fill="#000" textLength="6.90" lengthAdjust="spacingAndGlyphs">30</text>
<text x="368.25" y="152.72" font-size="8.4" font-weight="bold" text-anchor="middle" fill="#000" textLength="27.90" lengthAdjust="spacingAndGlyphs">Time (h)</text>
<text x="284.60" y="83.24" font-size="7.6" font-weight="bold" text-anchor="middle" fill="#000" transform="rotate(-90 284.60 80.50)" textLength="53.70" lengthAdjust="spacingAndGlyphs">% recovery scar</text>
<line x1="305.20" y1="5.80" x2="314.20" y2="5.80" stroke="#d0d0d0" stroke-width="0.6"/>
<circle cx="309.70" cy="5.80" r="1.20" fill="#c8c8c8"/>
<text x="317.20" y="8.46" font-size="7.4" font-weight="bold" text-anchor="start" fill="#000">1</text>
<text x="324.30" y="8.18" font-size="6.6" font-weight="normal" text-anchor="start" fill="#000" textLength="29.50" lengthAdjust="spacingAndGlyphs">serum 0%</text>
<line x1="305.20" y1="15.20" x2="314.20" y2="15.20" stroke="#222" stroke-width="0.6"/>
<rect x="308.40" y="13.90" width="2.60" height="2.60" fill="#000"/>
<text x="317.20" y="17.86" font-size="7.4" font-weight="bold" text-anchor="start" fill="#000">2</text>
<text x="324.30" y="17.58" font-size="6.6" font-weight="normal" text-anchor="start" fill="#000" textLength="46.00" lengthAdjust="spacingAndGlyphs">FGF2 20ng/ml</text>
<line x1="305.20" y1="24.90" x2="314.20" y2="24.90" stroke="#9a9a9a" stroke-width="0.6"/>
<circle cx="309.70" cy="24.90" r="1.30" fill="#808080"/>
<text x="317.20" y="27.56" font-size="7.4" font-weight="bold" text-anchor="start" fill="#000">3</text>
<text x="324.30" y="27.28" font-size="6.6" font-weight="normal" text-anchor="start" fill="#000" textLength="51.50" lengthAdjust="spacingAndGlyphs">LYVE-1 250ng/ml</text>
<line x1="305.20" y1="34.00" x2="314.20" y2="34.00" stroke="#707070" stroke-width="0.6"/>
<polygon points="308.30,32.74 311.10,32.74 309.70,35.26" fill="#303030"/>
<text x="317.20" y="36.66" font-size="7.4" font-weight="bold" text-anchor="start" fill="#000">4</text>
<text x="324.30" y="36.38" font-size="6.6" font-weight="normal" text-anchor="start" fill="#000" textLength="102.00" lengthAdjust="spacingAndGlyphs">FGF2 20ng/ml &amp; LYVE-1 250ng/ml</text>
<rect x="445.95" y="42.82" width="13.50" height="33.08" fill="#000"/>
<line x1="452.70" y1="40.20" x2="452.70" y2="42.82" stroke="#888" stroke-width="0.6"/>
<line x1="449.20" y1="40.20" x2="456.20" y2="40.20" stroke="#888" stroke-width="0.6"/>
<rect x="464.55" y="23.90" width="13.50" height="52.00" fill="#000"/>
<line x1="471.30" y1="18.90" x2="471.30" y2="23.90" stroke="#888" stroke-width="0.6"/>
<line x1="467.80" y1="18.90" x2="474.80" y2="18.90" stroke="#888" stroke-width="0.6"/>
<rect x="483.45" y="37.58" width="13.50" height="38.32" fill="#000"/>
<line x1="490.20" y1="35.32" x2="490.20" y2="37.58" stroke="#888" stroke-width="0.6"/>
<line x1="486.70" y1="35.32" x2="493.70" y2="35.32" stroke="#888" stroke-width="0.6"/>
<rect x="501.85" y="36.15" width="13.50" height="39.75" fill="#000"/>
<line x1="508.60" y1="32.35" x2="508.60" y2="36.15" stroke="#888" stroke-width="0.6"/>
<line x1="505.10" y1="32.35" x2="512.10" y2="32.35" stroke="#888" stroke-width="0.6"/>
<line x1="443.50" y1="16.40" x2="443.50" y2="75.90" stroke="#333" stroke-width="1.2"/>
<line x1="440.00" y1="75.90" x2="518.00" y2="75.90" stroke="#333" stroke-width="1.2"/>
<line x1="442.30" y1="75.90" x2="443.50" y2="75.90" stroke="#000" stroke-width="0.6"/>
<text x="442.10" y="77.27" font-size="3.8" font-weight="bold" text-anchor="end" fill="#000">0</text>
<line x1="442.30" y1="64.00" x2="443.50" y2="64.00" stroke="#000" stroke-width="0.6"/>
<text x="442.10" y="65.37" font-size="3.8" font-weight="bold" text-anchor="end" fill="#000">10</text>
<line x1="442.30" y1="52.10" x2="443.50" y2="52.10" stroke="#000" stroke-width="0.6"/>
<text x="442.10" y="53.47" font-size="3.8" font-weight="bold" text-anchor="end" fill="#000">20</text>
<line x1="442.30" y1="40.20" x2="443.50" y2="40.20" stroke="#000" stroke-width="0.6"/>
<text x="442.10" y="41.57" font-size="3.8" font-weight="bold" text-anchor="end" fill="#000">30</text>
<line x1="442.30" y1="28.30" x2="443.50" y2="28.30" stroke="#000" stroke-width="0.6"/>
<text x="442.10" y="29.67" font-size="3.8" font-weight="bold" text-anchor="end" fill="#000">40</text>
<line x1="442.30" y1="16.40" x2="443.50" y2="16.40" stroke="#000" stroke-width="0.6"/>
<text x="442.10" y="17.77" font-size="3.8" font-weight="bold" text-anchor="end" fill="#000">50</text>
<line x1="452.70" y1="75.90" x2="452.70" y2="77.40" stroke="#000" stroke-width="0.6"/>
<line x1="471.30" y1="75.90" x2="471.30" y2="77.40" stroke="#000" stroke-width="0.6"/>
<line x1="490.20" y1="75.90" x2="490.20" y2="77.40" stroke="#000" stroke-width="0.6"/>
<line x1="508.60" y1="75.90" x2="508.60" y2="77.40" stroke="#000" stroke-width="0.6"/>
<text x="452.30" y="90.08" font-size="9.4" font-weight="normal" text-anchor="middle" fill="#000">1</text>
<text x="472.00" y="90.08" font-size="9.4" font-weight="normal" text-anchor="middle" fill="#000">2</text>
<text x="491.00" y="90.08" font-size="9.4" font-weight="normal" text-anchor="middle" fill="#000">3</text>
<text x="507.50" y="90.08" font-size="9.4" font-weight="normal" text-anchor="middle" fill="#000">4</text>
<text x="433.40" y="47.82" font-size="5.6" font-weight="normal" text-anchor="middle" fill="#000" transform="rotate(-90 433.40 45.80)" textLength="40.00" lengthAdjust="spacingAndGlyphs">% recovery scar</text>
<text x="477.50" y="8.85" font-size="6.8" font-weight="normal" text-anchor="middle" fill="#000" textLength="8.70" lengthAdjust="spacingAndGlyphs">24h</text>
<line x1="451.70" y1="16.20" x2="471.00" y2="16.20" stroke="#777" stroke-width="0.7"/>
<circle cx="460.40" cy="13.80" r="0.80" fill="#222"/>
<circle cx="462.20" cy="13.80" r="0.80" fill="#222"/>
<line x1="471.00" y1="12.30" x2="508.00" y2="12.30" stroke="#777" stroke-width="0.7"/>
<circle cx="488.30" cy="9.60" r="0.80" fill="#222"/>
<line x1="471.00" y1="18.70" x2="495.00" y2="18.70" stroke="#777" stroke-width="0.7"/>
<circle cx="482.00" cy="16.30" r="0.80" fill="#222"/>
<text x="1.00" y="181.64" font-size="14.0" font-weight="bold" text-anchor="start" fill="#000">C</text>
<line x1="30.30" y1="294.27" x2="30.30" y2="301.14" stroke="#cfcfcf" stroke-width="0.6"/>
<line x1="29.10" y1="294.27" x2="31.50" y2="294.27" stroke="#cfcfcf" stroke-width="0.6"/>
<line x1="29.10" y1="301.14" x2="31.50" y2="301.14" stroke="#cfcfcf" stroke-width="0.6"/>
<line x1="35.12" y1="292.94" x2="35.12" y2="300.18" stroke="#cfcfcf" stroke-width="0.6"/>
<line x1="33.92" y1="292.94" x2="36.32" y2="292.94" stroke="#cfcfcf" stroke-width="0.6"/>
<line x1="33.92" y1="300.18" x2="36.32" y2="300.18" stroke="#cfcfcf" stroke-width="0.6"/>
<line x1="39.94" y1="292.76" x2="39.94" y2="300.36" stroke="#cfcfcf" stroke-width="0.6"/>
<line x1="38.74" y1="292.76" x2="41.14" y2="292.76" stroke="#cfcfcf" stroke-width="0.6"/>
<line x1="38.74" y1="300.36" x2="41.14" y2="300.36" stroke="#cfcfcf" stroke-width="0.6"/>
<line x1="44.76" y1="292.58" x2="44.76" y2="300.54" stroke="#cfcfcf" stroke-width="0.6"/>
<line x1="43.56" y1="292.58" x2="45.96" y2="292.58" stroke="#cfcfcf" stroke-width="0.6"/>
<line x1="43.56" y1="300.54" x2="45.96" y2="300.54" stroke="#cfcfcf" stroke-width="0.6"/>
<line x1="49.58" y1="292.39" x2="49.58" y2="300.73" stroke="#cfcfcf" stroke-width="0.6"/>
<line x1="48.38" y1="292.39" x2="50.78" y2="292.39" stroke="#cfcfcf" stroke-width="0.6"/>
<line x1="48.38" y1="300.73" x2="50.78" y2="300.73" stroke="#cfcfcf" stroke-width="0.6"/>
<line x1="54.40" y1="292.21" x2="54.40" y2="300.91" stroke="#cfcfcf" stroke-width="0.6"/>
<line x1="53.20" y1="292.21" x2="55.60" y2="292.21" stroke="#cfcfcf" stroke-width="0.6"/>
<line x1="53.20" y1="300.91" x2="55.60" y2="300.91" stroke="#cfcfcf" stroke-width="0.6"/>
<line x1="59.22" y1="292.03" x2="59.22" y2="301.09" stroke="#cfcfcf" stroke-width="0.6"/>
<line x1="58.02" y1="292.03" x2="60.42" y2="292.03" stroke="#cfcfcf" stroke-width="0.6"/>
<line x1="58.02" y1="301.09" x2="60.42" y2="301.09" stroke="#cfcfcf" stroke-width="0.6"/>
<line x1="64.04" y1="291.84" x2="64.04" y2="301.28" stroke="#cfcfcf" stroke-width="0.6"/>
<line x1="62.84" y1="291.84" x2="65.24" y2="291.84" stroke="#cfcfcf" stroke-width="0.6"/>
<line x1="62.84" y1="301.28" x2="65.24" y2="301.28" stroke="#cfcfcf" stroke-width="0.6"/>
<line x1="68.86" y1="290.51" x2="68.86" y2="300.32" stroke="#cfcfcf" stroke-width="0.6"/>
<line x1="67.66" y1="290.51" x2="70.06" y2="290.51" stroke="#cfcfcf" stroke-width="0.6"/>
<line x1="67.66" y1="300.32" x2="70.06" y2="300.32" stroke="#cfcfcf" stroke-width="0.6"/>
<line x1="73.68" y1="290.33" x2="73.68" y2="300.50" stroke="#cfcfcf" stroke-width="0.6"/>
<line x1="72.48" y1="290.33" x2="74.88" y2="290.33" stroke="#cfcfcf" stroke-width="0.6"/>
<line x1="72.48" y1="300.50" x2="74.88" y2="300.50" stroke="#cfcfcf" stroke-width="0.6"/>
<line x1="78.50" y1="287.86" x2="78.50" y2="298.39" stroke="#cfcfcf" stroke-width="0.6"/>
<line x1="77.30" y1="287.86" x2="79.70" y2="287.86" stroke="#cfcfcf" stroke-width="0.6"/>
<line x1="77.30" y1="298.39" x2="79.70" y2="298.39" stroke="#cfcfcf" stroke-width="0.6"/>
<line x1="83.32" y1="285.38" x2="83.32" y2="296.29" stroke="#cfcfcf" stroke-width="0.6"/>
<line x1="82.12" y1="285.38" x2="84.52" y2="285.38" stroke="#cfcfcf" stroke-width="0.6"/>
<line x1="82.12" y1="296.29" x2="84.52" y2="296.29" stroke="#cfcfcf" stroke-width="0.6"/>
<line x1="88.14" y1="285.20" x2="88.14" y2="296.47" stroke="#cfcfcf" stroke-width="0.6"/>
<line x1="86.94" y1="285.20" x2="89.34" y2="285.20" stroke="#cfcfcf" stroke-width="0.6"/>
<line x1="86.94" y1="296.47" x2="89.34" y2="296.47" stroke="#cfcfcf" stroke-width="0.6"/>
<line x1="92.96" y1="283.87" x2="92.96" y2="295.51" stroke="#cfcfcf" stroke-width="0.6"/>
<line x1="91.76" y1="283.87" x2="94.16" y2="283.87" stroke="#cfcfcf" stroke-width="0.6"/>
<line x1="91.76" y1="295.51" x2="94.16" y2="295.51" stroke="#cfcfcf" stroke-width="0.6"/>
<line x1="97.78" y1="282.55" x2="97.78" y2="294.54" stroke="#cfcfcf" stroke-width="0.6"/>
<line x1="96.58" y1="282.55" x2="98.98" y2="282.55" stroke="#cfcfcf" stroke-width="0.6"/>
<line x1="96.58" y1="294.54" x2="98.98" y2="294.54" stroke="#cfcfcf" stroke-width="0.6"/>
<line x1="102.60" y1="281.22" x2="102.60" y2="293.58" stroke="#cfcfcf" stroke-width="0.6"/>
<line x1="101.40" y1="281.22" x2="103.80" y2="281.22" stroke="#cfcfcf" stroke-width="0.6"/>
<line x1="101.40" y1="293.58" x2="103.80" y2="293.58" stroke="#cfcfcf" stroke-width="0.6"/>
<line x1="107.42" y1="279.89" x2="107.42" y2="292.62" stroke="#cfcfcf" stroke-width="0.6"/>
<line x1="106.22" y1="279.89" x2="108.62" y2="279.89" stroke="#cfcfcf" stroke-width="0.6"/>
<line x1="106.22" y1="292.62" x2="108.62" y2="292.62" stroke="#cfcfcf" stroke-width="0.6"/>
<line x1="112.24" y1="278.56" x2="112.24" y2="291.66" stroke="#cfcfcf" stroke-width="0.6"/>
<line x1="111.04" y1="278.56" x2="113.44" y2="278.56" stroke="#cfcfcf" stroke-width="0.6"/>
<line x1="111.04" y1="291.66" x2="113.44" y2="291.66" stroke="#cfcfcf" stroke-width="0.6"/>
<line x1="117.06" y1="278.38" x2="117.06" y2="291.84" stroke="#cfcfcf" stroke-width="0.6"/>
<line x1="115.86" y1="278.38" x2="118.26" y2="278.38" stroke="#cfcfcf" stroke-width="0.6"/>
<line x1="115.86" y1="291.84" x2="118.26" y2="291.84" stroke="#cfcfcf" stroke-width="0.6"/>
<line x1="121.88" y1="275.90" x2="121.88" y2="289.74" stroke="#cfcfcf" stroke-width="0.6"/>
<line x1="120.68" y1="275.90" x2="123.08" y2="275.90" stroke="#cfcfcf" stroke-width="0.6"/>
<line x1="120.68" y1="289.74" x2="123.08" y2="289.74" stroke="#cfcfcf" stroke-width="0.6"/>
<line x1="126.70" y1="273.43" x2="126.70" y2="287.63" stroke="#cfcfcf" stroke-width="0.6"/>
<line x1="125.50" y1="273.43" x2="127.90" y2="273.43" stroke="#cfcfcf" stroke-width="0.6"/>
<line x1="125.50" y1="287.63" x2="127.90" y2="287.63" stroke="#cfcfcf" stroke-width="0.6"/>
<line x1="131.52" y1="266.38" x2="131.52" y2="280.94" stroke="#cfcfcf" stroke-width="0.6"/>
<line x1="130.32" y1="266.38" x2="132.72" y2="266.38" stroke="#cfcfcf" stroke-width="0.6"/>
<line x1="130.32" y1="280.94" x2="132.72" y2="280.94" stroke="#cfcfcf" stroke-width="0.6"/>
<line x1="136.34" y1="265.05" x2="136.34" y2="279.98" stroke="#cfcfcf" stroke-width="0.6"/>
<line x1="135.14" y1="265.05" x2="137.54" y2="265.05" stroke="#cfcfcf" stroke-width="0.6"/>
<line x1="135.14" y1="279.98" x2="137.54" y2="279.98" stroke="#cfcfcf" stroke-width="0.6"/>
<line x1="141.16" y1="261.43" x2="141.16" y2="276.73" stroke="#cfcfcf" stroke-width="0.6"/>
<line x1="139.96" y1="261.43" x2="142.36" y2="261.43" stroke="#cfcfcf" stroke-width="0.6"/>
<line x1="139.96" y1="276.73" x2="142.36" y2="276.73" stroke="#cfcfcf" stroke-width="0.6"/>
<line x1="145.98" y1="254.38" x2="145.98" y2="270.04" stroke="#cfcfcf" stroke-width="0.6"/>
<line x1="144.78" y1="254.38" x2="147.18" y2="254.38" stroke="#cfcfcf" stroke-width="0.6"/>
<line x1="144.78" y1="270.04" x2="147.18" y2="270.04" stroke="#cfcfcf" stroke-width="0.6"/>
<line x1="150.80" y1="256.49" x2="150.80" y2="272.51" stroke="#cfcfcf" stroke-width="0.6"/>
<line x1="149.60" y1="256.49" x2="152.00" y2="256.49" stroke="#cfcfcf" stroke-width="0.6"/>
<line x1="149.60" y1="272.51" x2="152.00" y2="272.51" stroke="#cfcfcf" stroke-width="0.6"/>
<line x1="155.62" y1="254.01" x2="155.62" y2="270.41" stroke="#cfcfcf" stroke-width="0.6"/>
<line x1="154.42" y1="254.01" x2="156.82" y2="254.01" stroke="#cfcfcf" stroke-width="0.6"/>
<line x1="154.42" y1="270.41" x2="156.82" y2="270.41" stroke="#cfcfcf" stroke-width="0.6"/>
<line x1="160.44" y1="250.39" x2="160.44" y2="267.16" stroke="#cfcfcf" stroke-width="0.6"/>
<line x1="159.24" y1="250.39" x2="161.64" y2="250.39" stroke="#cfcfcf" stroke-width="0.6"/>
<line x1="159.24" y1="267.16" x2="161.64" y2="267.16" stroke="#cfcfcf" stroke-width="0.6"/>
<line x1="165.26" y1="246.78" x2="165.26" y2="263.90" stroke="#cfcfcf" stroke-width="0.6"/>
<line x1="164.06" y1="246.78" x2="166.46" y2="246.78" stroke="#cfcfcf" stroke-width="0.6"/>
<line x1="164.06" y1="263.90" x2="166.46" y2="263.90" stroke="#cfcfcf" stroke-width="0.6"/>
<line x1="170.08" y1="244.30" x2="170.08" y2="261.80" stroke="#cfcfcf" stroke-width="0.6"/>
<line x1="168.88" y1="244.30" x2="171.28" y2="244.30" stroke="#cfcfcf" stroke-width="0.6"/>
<line x1="168.88" y1="261.80" x2="171.28" y2="261.80" stroke="#cfcfcf" stroke-width="0.6"/>
<line x1="174.90" y1="244.12" x2="174.90" y2="261.98" stroke="#cfcfcf" stroke-width="0.6"/>
<line x1="173.70" y1="244.12" x2="176.10" y2="244.12" stroke="#cfcfcf" stroke-width="0.6"/>
<line x1="173.70" y1="261.98" x2="176.10" y2="261.98" stroke="#cfcfcf" stroke-width="0.6"/>
<line x1="179.72" y1="238.21" x2="179.72" y2="256.44" stroke="#cfcfcf" stroke-width="0.6"/>
<line x1="178.52" y1="238.21" x2="180.92" y2="238.21" stroke="#cfcfcf" stroke-width="0.6"/>
<line x1="178.52" y1="256.44" x2="180.92" y2="256.44" stroke="#cfcfcf" stroke-width="0.6"/>
<polyline points="30.30,297.70 35.12,296.56 39.94,296.56 44.76,296.56 49.58,296.56 54.40,296.56 59.22,296.56 64.04,296.56 68.86,295.42 73.68,295.42 78.50,293.12 83.32,290.84 88.14,290.84 92.96,289.69 97.78,288.55 102.60,287.40 107.42,286.25 112.24,285.11 117.06,285.11 121.88,282.82 126.70,280.53 131.52,273.66 136.34,272.51 141.16,269.08 145.98,262.21 150.80,264.50 155.62,262.21 160.44,258.78 165.26,255.34 170.08,253.05 174.90,253.05 179.72,247.33" fill="none" stroke="#d0d0d0" stroke-width="0.5"/>
<line x1="30.30" y1="291.98" x2="30.30" y2="298.85" stroke="#bdbdbd" stroke-width="0.6"/>
<line x1="29.10" y1="291.98" x2="31.50" y2="291.98" stroke="#bdbdbd" stroke-width="0.6"/>
<line x1="29.10" y1="298.85" x2="31.50" y2="298.85" stroke="#bdbdbd" stroke-width="0.6"/>
<line x1="35.12" y1="290.65" x2="35.12" y2="297.89" stroke="#bdbdbd" stroke-width="0.6"/>
<line x1="33.92" y1="290.65" x2="36.32" y2="290.65" stroke="#bdbdbd" stroke-width="0.6"/>
<line x1="33.92" y1="297.89" x2="36.32" y2="297.89" stroke="#bdbdbd" stroke-width="0.6"/>
<line x1="39.94" y1="290.47" x2="39.94" y2="298.07" stroke="#bdbdbd" stroke-width="0.6"/>
<line x1="38.74" y1="290.47" x2="41.14" y2="290.47" stroke="#bdbdbd" stroke-width="0.6"/>
<line x1="38.74" y1="298.07" x2="41.14" y2="298.07" stroke="#bdbdbd" stroke-width="0.6"/>
<line x1="44.76" y1="290.29" x2="44.76" y2="298.25" stroke="#bdbdbd" stroke-width="0.6"/>
<line x1="43.56" y1="290.29" x2="45.96" y2="290.29" stroke="#bdbdbd" stroke-width="0.6"/>
<line x1="43.56" y1="298.25" x2="45.96" y2="298.25" stroke="#bdbdbd" stroke-width="0.6"/>
<line x1="49.58" y1="290.10" x2="49.58" y2="298.44" stroke="#bdbdbd" stroke-width="0.6"/>
<line x1="48.38" y1="290.10" x2="50.78" y2="290.10" stroke="#bdbdbd" stroke-width="0.6"/>
<line x1="48.38" y1="298.44" x2="50.78" y2="298.44" stroke="#bdbdbd" stroke-width="0.6"/>
<line x1="54.40" y1="291.06" x2="54.40" y2="299.77" stroke="#bdbdbd" stroke-width="0.6"/>
<line x1="53.20" y1="291.06" x2="55.60" y2="291.06" stroke="#bdbdbd" stroke-width="0.6"/>
<line x1="53.20" y1="299.77" x2="55.60" y2="299.77" stroke="#bdbdbd" stroke-width="0.6"/>
<line x1="59.22" y1="289.74" x2="59.22" y2="298.80" stroke="#bdbdbd" stroke-width="0.6"/>
<line x1="58.02" y1="289.74" x2="60.42" y2="289.74" stroke="#bdbdbd" stroke-width="0.6"/>
<line x1="58.02" y1="298.80" x2="60.42" y2="298.80" stroke="#bdbdbd" stroke-width="0.6"/>
<line x1="64.04" y1="289.55" x2="64.04" y2="298.99" stroke="#bdbdbd" stroke-width="0.6"/>
<line x1="62.84" y1="289.55" x2="65.24" y2="289.55" stroke="#bdbdbd" stroke-width="0.6"/>
<line x1="62.84" y1="298.99" x2="65.24" y2="298.99" stroke="#bdbdbd" stroke-width="0.6"/>
<line x1="68.86" y1="289.37" x2="68.86" y2="299.17" stroke="#bdbdbd" stroke-width="0.6"/>
<line x1="67.66" y1="289.37" x2="70.06" y2="289.37" stroke="#bdbdbd" stroke-width="0.6"/>
<line x1="67.66" y1="299.17" x2="70.06" y2="299.17" stroke="#bdbdbd" stroke-width="0.6"/>
<line x1="73.68" y1="288.04" x2="73.68" y2="298.21" stroke="#bdbdbd" stroke-width="0.6"/>
<line x1="72.48" y1="288.04" x2="74.88" y2="288.04" stroke="#bdbdbd" stroke-width="0.6"/>
<line x1="72.48" y1="298.21" x2="74.88" y2="298.21" stroke="#bdbdbd" stroke-width="0.6"/>
<line x1="78.50" y1="285.57" x2="78.50" y2="296.10" stroke="#bdbdbd" stroke-width="0.6"/>
<line x1="77.30" y1="285.57" x2="79.70" y2="285.57" stroke="#bdbdbd" stroke-width="0.6"/>
<line x1="77.30" y1="296.10" x2="79.70" y2="296.10" stroke="#bdbdbd" stroke-width="0.6"/>
<line x1="83.32" y1="283.09" x2="83.32" y2="294.00" stroke="#bdbdbd" stroke-width="0.6"/>
<line x1="82.12" y1="283.09" x2="84.52" y2="283.09" stroke="#bdbdbd" stroke-width="0.6"/>
<line x1="82.12" y1="294.00" x2="84.52" y2="294.00" stroke="#bdbdbd" stroke-width="0.6"/>
<line x1="88.14" y1="282.91" x2="88.14" y2="294.18" stroke="#bdbdbd" stroke-width="0.6"/>
<line x1="86.94" y1="282.91" x2="89.34" y2="282.91" stroke="#bdbdbd" stroke-width="0.6"/>
<line x1="86.94" y1="294.18" x2="89.34" y2="294.18" stroke="#bdbdbd" stroke-width="0.6"/>
<line x1="92.96" y1="281.58" x2="92.96" y2="293.22" stroke="#bdbdbd" stroke-width="0.6"/>
<line x1="91.76" y1="281.58" x2="94.16" y2="281.58" stroke="#bdbdbd" stroke-width="0.6"/>
<line x1="91.76" y1="293.22" x2="94.16" y2="293.22" stroke="#bdbdbd" stroke-width="0.6"/>
<line x1="97.78" y1="280.26" x2="97.78" y2="292.25" stroke="#bdbdbd" stroke-width="0.6"/>
<line x1="96.58" y1="280.26" x2="98.98" y2="280.26" stroke="#bdbdbd" stroke-width="0.6"/>
<line x1="96.58" y1="292.25" x2="98.98" y2="292.25" stroke="#bdbdbd" stroke-width="0.6"/>
<line x1="102.60" y1="278.93" x2="102.60" y2="291.29" stroke="#bdbdbd" stroke-width="0.6"/>
<line x1="101.40" y1="278.93" x2="103.80" y2="278.93" stroke="#bdbdbd" stroke-width="0.6"/>
<line x1="101.40" y1="291.29" x2="103.80" y2="291.29" stroke="#bdbdbd" stroke-width="0.6"/>
<line x1="107.42" y1="276.45" x2="107.42" y2="289.19" stroke="#bdbdbd" stroke-width="0.6"/>
<line x1="106.22" y1="276.45" x2="108.62" y2="276.45" stroke="#bdbdbd" stroke-width="0.6"/>
<line x1="106.22" y1="289.19" x2="108.62" y2="289.19" stroke="#bdbdbd" stroke-width="0.6"/>
<line x1="112.24" y1="275.13" x2="112.24" y2="288.22" stroke="#bdbdbd" stroke-width="0.6"/>
<line x1="111.04" y1="275.13" x2="113.44" y2="275.13" stroke="#bdbdbd" stroke-width="0.6"/>
<line x1="111.04" y1="288.22" x2="113.44" y2="288.22" stroke="#bdbdbd" stroke-width="0.6"/>
<line x1="117.06" y1="274.94" x2="117.06" y2="288.41" stroke="#bdbdbd" stroke-width="0.6"/>
<line x1="115.86" y1="274.94" x2="118.26" y2="274.94" stroke="#bdbdbd" stroke-width="0.6"/>
<line x1="115.86" y1="288.41" x2="118.26" y2="288.41" stroke="#bdbdbd" stroke-width="0.6"/>
<line x1="121.88" y1="271.32" x2="121.88" y2="285.16" stroke="#bdbdbd" stroke-width="0.6"/>
<line x1="120.68" y1="271.32" x2="123.08" y2="271.32" stroke="#bdbdbd" stroke-width="0.6"/>
<line x1="120.68" y1="285.16" x2="123.08" y2="285.16" stroke="#bdbdbd" stroke-width="0.6"/>
<line x1="126.70" y1="268.85" x2="126.70" y2="283.05" stroke="#bdbdbd" stroke-width="0.6"/>
<line x1="125.50" y1="268.85" x2="127.90" y2="268.85" stroke="#bdbdbd" stroke-width="0.6"/>
<line x1="125.50" y1="283.05" x2="127.90" y2="283.05" stroke="#bdbdbd" stroke-width="0.6"/>
<line x1="131.52" y1="260.65" x2="131.52" y2="275.22" stroke="#bdbdbd" stroke-width="0.6"/>
<line x1="130.32" y1="260.65" x2="132.72" y2="260.65" stroke="#bdbdbd" stroke-width="0.6"/>
<line x1="130.32" y1="275.22" x2="132.72" y2="275.22" stroke="#bdbdbd" stroke-width="0.6"/>
<line x1="136.34" y1="259.32" x2="136.34" y2="274.26" stroke="#bdbdbd" stroke-width="0.6"/>
<line x1="135.14" y1="259.32" x2="137.54" y2="259.32" stroke="#bdbdbd" stroke-width="0.6"/>
<line x1="135.14" y1="274.26" x2="137.54" y2="274.26" stroke="#bdbdbd" stroke-width="0.6"/>
<line x1="141.16" y1="255.71" x2="141.16" y2="271.00" stroke="#bdbdbd" stroke-width="0.6"/>
<line x1="139.96" y1="255.71" x2="142.36" y2="255.71" stroke="#bdbdbd" stroke-width="0.6"/>
<line x1="139.96" y1="271.00" x2="142.36" y2="271.00" stroke="#bdbdbd" stroke-width="0.6"/>
<line x1="145.98" y1="248.65" x2="145.98" y2="264.32" stroke="#bdbdbd" stroke-width="0.6"/>
<line x1="144.78" y1="248.65" x2="147.18" y2="248.65" stroke="#bdbdbd" stroke-width="0.6"/>
<line x1="144.78" y1="264.32" x2="147.18" y2="264.32" stroke="#bdbdbd" stroke-width="0.6"/>
<line x1="150.80" y1="251.91" x2="150.80" y2="267.94" stroke="#bdbdbd" stroke-width="0.6"/>
<line x1="149.60" y1="251.91" x2="152.00" y2="251.91" stroke="#bdbdbd" stroke-width="0.6"/>
<line x1="149.60" y1="267.94" x2="152.00" y2="267.94" stroke="#bdbdbd" stroke-width="0.6"/>
<line x1="155.62" y1="248.29" x2="155.62" y2="264.68" stroke="#bdbdbd" stroke-width="0.6"/>
<line x1="154.42" y1="248.29" x2="156.82" y2="248.29" stroke="#bdbdbd" stroke-width="0.6"/>
<line x1="154.42" y1="264.68" x2="156.82" y2="264.68" stroke="#bdbdbd" stroke-width="0.6"/>
<line x1="160.44" y1="245.81" x2="160.44" y2="262.58" stroke="#bdbdbd" stroke-width="0.6"/>
<line x1="159.24" y1="245.81" x2="161.64" y2="245.81" stroke="#bdbdbd" stroke-width="0.6"/>
<line x1="159.24" y1="262.58" x2="161.64" y2="262.58" stroke="#bdbdbd" stroke-width="0.6"/>
<line x1="165.26" y1="242.20" x2="165.26" y2="259.32" stroke="#bdbdbd" stroke-width="0.6"/>
<line x1="164.06" y1="242.20" x2="166.46" y2="242.20" stroke="#bdbdbd" stroke-width="0.6"/>
<line x1="164.06" y1="259.32" x2="166.46" y2="259.32" stroke="#bdbdbd" stroke-width="0.6"/>
<line x1="170.08" y1="238.58" x2="170.08" y2="256.07" stroke="#bdbdbd" stroke-width="0.6"/>
<line x1="168.88" y1="238.58" x2="171.28" y2="238.58" stroke="#bdbdbd" stroke-width="0.6"/>
<line x1="168.88" y1="256.07" x2="171.28" y2="256.07" stroke="#bdbdbd" stroke-width="0.6"/>
<line x1="174.90" y1="241.83" x2="174.90" y2="259.69" stroke="#bdbdbd" stroke-width="0.6"/>
<line x1="173.70" y1="241.83" x2="176.10" y2="241.83" stroke="#bdbdbd" stroke-width="0.6"/>
<line x1="173.70" y1="259.69" x2="176.10" y2="259.69" stroke="#bdbdbd" stroke-width="0.6"/>
<line x1="179.72" y1="234.78" x2="179.72" y2="253.00" stroke="#bdbdbd" stroke-width="0.6"/>
<line x1="178.52" y1="234.78" x2="180.92" y2="234.78" stroke="#bdbdbd" stroke-width="0.6"/>
<line x1="178.52" y1="253.00" x2="180.92" y2="253.00" stroke="#bdbdbd" stroke-width="0.6"/>
<polyline points="30.30,295.42 35.12,294.27 39.94,294.27 44.76,294.27 49.58,294.27 54.40,295.42 59.22,294.27 64.04,294.27 68.86,294.27 73.68,293.12 78.50,290.84 83.32,288.55 88.14,288.55 92.96,287.40 97.78,286.25 102.60,285.11 107.42,282.82 112.24,281.68 117.06,281.68 121.88,278.24 126.70,275.95 131.52,267.94 136.34,266.79 141.16,263.36 145.98,256.49 150.80,259.92 155.62,256.49 160.44,254.19 165.26,250.76 170.08,247.33 174.90,250.76 179.72,243.89" fill="none" stroke="#9a9a9a" stroke-width="0.5"/>
<line x1="30.30" y1="291.98" x2="30.30" y2="298.85" stroke="#a0a0a0" stroke-width="0.6"/>
<line x1="29.10" y1="291.98" x2="31.50" y2="291.98" stroke="#a0a0a0" stroke-width="0.6"/>
<line x1="29.10" y1="298.85" x2="31.50" y2="298.85" stroke="#a0a0a0" stroke-width="0.6"/>
<line x1="35.12" y1="287.17" x2="35.12" y2="294.50" stroke="#a0a0a0" stroke-width="0.6"/>
<line x1="33.92" y1="287.17" x2="36.32" y2="287.17" stroke="#a0a0a0" stroke-width="0.6"/>
<line x1="33.92" y1="294.50" x2="36.32" y2="294.50" stroke="#a0a0a0" stroke-width="0.6"/>
<line x1="39.94" y1="286.94" x2="39.94" y2="294.73" stroke="#a0a0a0" stroke-width="0.6"/>
<line x1="38.74" y1="286.94" x2="41.14" y2="286.94" stroke="#a0a0a0" stroke-width="0.6"/>
<line x1="38.74" y1="294.73" x2="41.14" y2="294.73" stroke="#a0a0a0" stroke-width="0.6"/>
<line x1="44.76" y1="286.71" x2="44.76" y2="294.96" stroke="#a0a0a0" stroke-width="0.6"/>
<line x1="43.56" y1="286.71" x2="45.96" y2="286.71" stroke="#a0a0a0" stroke-width="0.6"/>
<line x1="43.56" y1="294.96" x2="45.96" y2="294.96" stroke="#a0a0a0" stroke-width="0.6"/>
<line x1="49.58" y1="286.48" x2="49.58" y2="295.19" stroke="#a0a0a0" stroke-width="0.6"/>
<line x1="48.38" y1="286.48" x2="50.78" y2="286.48" stroke="#a0a0a0" stroke-width="0.6"/>
<line x1="48.38" y1="295.19" x2="50.78" y2="295.19" stroke="#a0a0a0" stroke-width="0.6"/>
<line x1="54.40" y1="287.40" x2="54.40" y2="296.56" stroke="#a0a0a0" stroke-width="0.6"/>
<line x1="53.20" y1="287.40" x2="55.60" y2="287.40" stroke="#a0a0a0" stroke-width="0.6"/>
<line x1="53.20" y1="296.56" x2="55.60" y2="296.56" stroke="#a0a0a0" stroke-width="0.6"/>
<line x1="59.22" y1="286.03" x2="59.22" y2="295.64" stroke="#a0a0a0" stroke-width="0.6"/>
<line x1="58.02" y1="286.03" x2="60.42" y2="286.03" stroke="#a0a0a0" stroke-width="0.6"/>
<line x1="58.02" y1="295.64" x2="60.42" y2="295.64" stroke="#a0a0a0" stroke-width="0.6"/>
<line x1="64.04" y1="285.80" x2="64.04" y2="295.87" stroke="#a0a0a0" stroke-width="0.6"/>
<line x1="62.84" y1="285.80" x2="65.24" y2="285.80" stroke="#a0a0a0" stroke-width="0.6"/>
<line x1="62.84" y1="295.87" x2="65.24" y2="295.87" stroke="#a0a0a0" stroke-width="0.6"/>
<line x1="68.86" y1="284.42" x2="68.86" y2="294.96" stroke="#a0a0a0" stroke-width="0.6"/>
<line x1="67.66" y1="284.42" x2="70.06" y2="284.42" stroke="#a0a0a0" stroke-width="0.6"/>
<line x1="67.66" y1="294.96" x2="70.06" y2="294.96" stroke="#a0a0a0" stroke-width="0.6"/>
<line x1="73.68" y1="284.19" x2="73.68" y2="295.19" stroke="#a0a0a0" stroke-width="0.6"/>
<line x1="72.48" y1="284.19" x2="74.88" y2="284.19" stroke="#a0a0a0" stroke-width="0.6"/>
<line x1="72.48" y1="295.19" x2="74.88" y2="295.19" stroke="#a0a0a0" stroke-width="0.6"/>
<line x1="78.50" y1="282.82" x2="78.50" y2="294.27" stroke="#a0a0a0" stroke-width="0.6"/>
<line x1="77.30" y1="282.82" x2="79.70" y2="282.82" stroke="#a0a0a0" stroke-width="0.6"/>
<line x1="77.30" y1="294.27" x2="79.70" y2="294.27" stroke="#a0a0a0" stroke-width="0.6"/>
<line x1="83.32" y1="280.30" x2="83.32" y2="292.21" stroke="#a0a0a0" stroke-width="0.6"/>
<line x1="82.12" y1="280.30" x2="84.52" y2="280.30" stroke="#a0a0a0" stroke-width="0.6"/>
<line x1="82.12" y1="292.21" x2="84.52" y2="292.21" stroke="#a0a0a0" stroke-width="0.6"/>
<line x1="88.14" y1="280.07" x2="88.14" y2="292.44" stroke="#a0a0a0" stroke-width="0.6"/>
<line x1="86.94" y1="280.07" x2="89.34" y2="280.07" stroke="#a0a0a0" stroke-width="0.6"/>
<line x1="86.94" y1="292.44" x2="89.34" y2="292.44" stroke="#a0a0a0" stroke-width="0.6"/>
<line x1="92.96" y1="278.70" x2="92.96" y2="291.52" stroke="#a0a0a0" stroke-width="0.6"/>
<line x1="91.76" y1="278.70" x2="94.16" y2="278.70" stroke="#a0a0a0" stroke-width="0.6"/>
<line x1="91.76" y1="291.52" x2="94.16" y2="291.52" stroke="#a0a0a0" stroke-width="0.6"/>
<line x1="97.78" y1="277.32" x2="97.78" y2="290.61" stroke="#a0a0a0" stroke-width="0.6"/>
<line x1="96.58" y1="277.32" x2="98.98" y2="277.32" stroke="#a0a0a0" stroke-width="0.6"/>
<line x1="96.58" y1="290.61" x2="98.98" y2="290.61" stroke="#a0a0a0" stroke-width="0.6"/>
<line x1="102.60" y1="275.95" x2="102.60" y2="289.69" stroke="#a0a0a0" stroke-width="0.6"/>
<line x1="101.40" y1="275.95" x2="103.80" y2="275.95" stroke="#a0a0a0" stroke-width="0.6"/>
<line x1="101.40" y1="289.69" x2="103.80" y2="289.69" stroke="#a0a0a0" stroke-width="0.6"/>
<line x1="107.42" y1="273.43" x2="107.42" y2="287.63" stroke="#a0a0a0" stroke-width="0.6"/>
<line x1="106.22" y1="273.43" x2="108.62" y2="273.43" stroke="#a0a0a0" stroke-width="0.6"/>
<line x1="106.22" y1="287.63" x2="108.62" y2="287.63" stroke="#a0a0a0" stroke-width="0.6"/>
<line x1="112.24" y1="272.06" x2="112.24" y2="286.71" stroke="#a0a0a0" stroke-width="0.6"/>
<line x1="111.04" y1="272.06" x2="113.44" y2="272.06" stroke="#a0a0a0" stroke-width="0.6"/>
<line x1="111.04" y1="286.71" x2="113.44" y2="286.71" stroke="#a0a0a0" stroke-width="0.6"/>
<line x1="117.06" y1="272.97" x2="117.06" y2="288.09" stroke="#a0a0a0" stroke-width="0.6"/>
<line x1="115.86" y1="272.97" x2="118.26" y2="272.97" stroke="#a0a0a0" stroke-width="0.6"/>
<line x1="115.86" y1="288.09" x2="118.26" y2="288.09" stroke="#a0a0a0" stroke-width="0.6"/>
<line x1="121.88" y1="269.31" x2="121.88" y2="284.88" stroke="#a0a0a0" stroke-width="0.6"/>
<line x1="120.68" y1="269.31" x2="123.08" y2="269.31" stroke="#a0a0a0" stroke-width="0.6"/>
<line x1="120.68" y1="284.88" x2="123.08" y2="284.88" stroke="#a0a0a0" stroke-width="0.6"/>
<line x1="126.70" y1="266.79" x2="126.70" y2="282.82" stroke="#a0a0a0" stroke-width="0.6"/>
<line x1="125.50" y1="266.79" x2="127.90" y2="266.79" stroke="#a0a0a0" stroke-width="0.6"/>
<line x1="125.50" y1="282.82" x2="127.90" y2="282.82" stroke="#a0a0a0" stroke-width="0.6"/>
<line x1="131.52" y1="256.26" x2="131.52" y2="272.74" stroke="#a0a0a0" stroke-width="0.6"/>
<line x1="130.32" y1="256.26" x2="132.72" y2="256.26" stroke="#a0a0a0" stroke-width="0.6"/>
<line x1="130.32" y1="272.74" x2="132.72" y2="272.74" stroke="#a0a0a0" stroke-width="0.6"/>
<line x1="136.34" y1="254.88" x2="136.34" y2="271.83" stroke="#a0a0a0" stroke-width="0.6"/>
<line x1="135.14" y1="254.88" x2="137.54" y2="254.88" stroke="#a0a0a0" stroke-width="0.6"/>
<line x1="135.14" y1="271.83" x2="137.54" y2="271.83" stroke="#a0a0a0" stroke-width="0.6"/>
<line x1="141.16" y1="251.22" x2="141.16" y2="268.62" stroke="#a0a0a0" stroke-width="0.6"/>
<line x1="139.96" y1="251.22" x2="142.36" y2="251.22" stroke="#a0a0a0" stroke-width="0.6"/>
<line x1="139.96" y1="268.62" x2="142.36" y2="268.62" stroke="#a0a0a0" stroke-width="0.6"/>
<line x1="145.98" y1="244.12" x2="145.98" y2="261.98" stroke="#a0a0a0" stroke-width="0.6"/>
<line x1="144.78" y1="244.12" x2="147.18" y2="244.12" stroke="#a0a0a0" stroke-width="0.6"/>
<line x1="144.78" y1="261.98" x2="147.18" y2="261.98" stroke="#a0a0a0" stroke-width="0.6"/>
<line x1="150.80" y1="247.33" x2="150.80" y2="265.64" stroke="#a0a0a0" stroke-width="0.6"/>
<line x1="149.60" y1="247.33" x2="152.00" y2="247.33" stroke="#a0a0a0" stroke-width="0.6"/>
<line x1="149.60" y1="265.64" x2="152.00" y2="265.64" stroke="#a0a0a0" stroke-width="0.6"/>
<line x1="155.62" y1="244.81" x2="155.62" y2="263.58" stroke="#a0a0a0" stroke-width="0.6"/>
<line x1="154.42" y1="244.81" x2="156.82" y2="244.81" stroke="#a0a0a0" stroke-width="0.6"/>
<line x1="154.42" y1="263.58" x2="156.82" y2="263.58" stroke="#a0a0a0" stroke-width="0.6"/>
<line x1="160.44" y1="242.29" x2="160.44" y2="261.52" stroke="#a0a0a0" stroke-width="0.6"/>
<line x1="159.24" y1="242.29" x2="161.64" y2="242.29" stroke="#a0a0a0" stroke-width="0.6"/>
<line x1="159.24" y1="261.52" x2="161.64" y2="261.52" stroke="#a0a0a0" stroke-width="0.6"/>
<line x1="165.26" y1="237.48" x2="165.26" y2="257.17" stroke="#a0a0a0" stroke-width="0.6"/>
<line x1="164.06" y1="237.48" x2="166.46" y2="237.48" stroke="#a0a0a0" stroke-width="0.6"/>
<line x1="164.06" y1="257.17" x2="166.46" y2="257.17" stroke="#a0a0a0" stroke-width="0.6"/>
<line x1="170.08" y1="233.81" x2="170.08" y2="253.97" stroke="#a0a0a0" stroke-width="0.6"/>
<line x1="168.88" y1="233.81" x2="171.28" y2="233.81" stroke="#a0a0a0" stroke-width="0.6"/>
<line x1="168.88" y1="253.97" x2="171.28" y2="253.97" stroke="#a0a0a0" stroke-width="0.6"/>
<line x1="174.90" y1="238.17" x2="174.90" y2="258.78" stroke="#a0a0a0" stroke-width="0.6"/>
<line x1="173.70" y1="238.17" x2="176.10" y2="238.17" stroke="#a0a0a0" stroke-width="0.6"/>
<line x1="173.70" y1="258.78" x2="176.10" y2="258.78" stroke="#a0a0a0" stroke-width="0.6"/>
<line x1="179.72" y1="229.92" x2="179.72" y2="250.99" stroke="#a0a0a0" stroke-width="0.6"/>
<line x1="178.52" y1="229.92" x2="180.92" y2="229.92" stroke="#a0a0a0" stroke-width="0.6"/>
<line x1="178.52" y1="250.99" x2="180.92" y2="250.99" stroke="#a0a0a0" stroke-width="0.6"/>
<polyline points="30.30,295.42 35.12,290.84 39.94,290.84 44.76,290.84 49.58,290.84 54.40,291.98 59.22,290.84 64.04,290.84 68.86,289.69 73.68,289.69 78.50,288.55 83.32,286.25 88.14,286.25 92.96,285.11 97.78,283.97 102.60,282.82 107.42,280.53 112.24,279.38 117.06,280.53 121.88,277.10 126.70,274.81 131.52,264.50 136.34,263.36 141.16,259.92 145.98,253.05 150.80,256.49 155.62,254.19 160.44,251.91 165.26,247.33 170.08,243.89 174.90,248.47 179.72,240.46" fill="none" stroke="#707070" stroke-width="0.5"/>
<line x1="30.30" y1="289.92" x2="30.30" y2="299.08" stroke="#909090" stroke-width="0.6"/>
<line x1="29.10" y1="289.92" x2="31.50" y2="289.92" stroke="#909090" stroke-width="0.6"/>
<line x1="29.10" y1="299.08" x2="31.50" y2="299.08" stroke="#909090" stroke-width="0.6"/>
<line x1="35.12" y1="281.96" x2="35.12" y2="291.46" stroke="#909090" stroke-width="0.6"/>
<line x1="33.92" y1="281.96" x2="36.32" y2="281.96" stroke="#909090" stroke-width="0.6"/>
<line x1="33.92" y1="291.46" x2="36.32" y2="291.46" stroke="#909090" stroke-width="0.6"/>
<line x1="39.94" y1="281.90" x2="39.94" y2="291.75" stroke="#909090" stroke-width="0.6"/>
<line x1="38.74" y1="281.90" x2="41.14" y2="281.90" stroke="#909090" stroke-width="0.6"/>
<line x1="38.74" y1="291.75" x2="41.14" y2="291.75" stroke="#909090" stroke-width="0.6"/>
<line x1="44.76" y1="282.30" x2="44.76" y2="292.50" stroke="#909090" stroke-width="0.6"/>
<line x1="43.56" y1="282.30" x2="45.96" y2="282.30" stroke="#909090" stroke-width="0.6"/>
<line x1="43.56" y1="292.50" x2="45.96" y2="292.50" stroke="#909090" stroke-width="0.6"/>
<line x1="49.58" y1="281.56" x2="49.58" y2="292.09" stroke="#909090" stroke-width="0.6"/>
<line x1="48.38" y1="281.56" x2="50.78" y2="281.56" stroke="#909090" stroke-width="0.6"/>
<line x1="48.38" y1="292.09" x2="50.78" y2="292.09" stroke="#909090" stroke-width="0.6"/>
<line x1="54.40" y1="283.56" x2="54.40" y2="294.44" stroke="#909090" stroke-width="0.6"/>
<line x1="53.20" y1="283.56" x2="55.60" y2="283.56" stroke="#909090" stroke-width="0.6"/>
<line x1="53.20" y1="294.44" x2="55.60" y2="294.44" stroke="#909090" stroke-width="0.6"/>
<line x1="59.22" y1="279.84" x2="59.22" y2="291.06" stroke="#909090" stroke-width="0.6"/>
<line x1="58.02" y1="279.84" x2="60.42" y2="279.84" stroke="#909090" stroke-width="0.6"/>
<line x1="58.02" y1="291.06" x2="60.42" y2="291.06" stroke="#909090" stroke-width="0.6"/>
<line x1="64.04" y1="276.24" x2="64.04" y2="287.80" stroke="#909090" stroke-width="0.6"/>
<line x1="62.84" y1="276.24" x2="65.24" y2="276.24" stroke="#909090" stroke-width="0.6"/>
<line x1="62.84" y1="287.80" x2="65.24" y2="287.80" stroke="#909090" stroke-width="0.6"/>
<line x1="68.86" y1="271.14" x2="68.86" y2="283.05" stroke="#909090" stroke-width="0.6"/>
<line x1="67.66" y1="271.14" x2="70.06" y2="271.14" stroke="#909090" stroke-width="0.6"/>
<line x1="67.66" y1="283.05" x2="70.06" y2="283.05" stroke="#909090" stroke-width="0.6"/>
<line x1="73.68" y1="275.55" x2="73.68" y2="287.80" stroke="#909090" stroke-width="0.6"/>
<line x1="72.48" y1="275.55" x2="74.88" y2="275.55" stroke="#909090" stroke-width="0.6"/>
<line x1="72.48" y1="287.80" x2="74.88" y2="287.80" stroke="#909090" stroke-width="0.6"/>
<line x1="78.50" y1="267.71" x2="78.50" y2="280.30" stroke="#909090" stroke-width="0.6"/>
<line x1="77.30" y1="267.71" x2="79.70" y2="267.71" stroke="#909090" stroke-width="0.6"/>
<line x1="77.30" y1="280.30" x2="79.70" y2="280.30" stroke="#909090" stroke-width="0.6"/>
<line x1="83.32" y1="269.48" x2="83.32" y2="282.42" stroke="#909090" stroke-width="0.6"/>
<line x1="82.12" y1="269.48" x2="84.52" y2="269.48" stroke="#909090" stroke-width="0.6"/>
<line x1="82.12" y1="282.42" x2="84.52" y2="282.42" stroke="#909090" stroke-width="0.6"/>
<line x1="88.14" y1="267.36" x2="88.14" y2="280.64" stroke="#909090" stroke-width="0.6"/>
<line x1="86.94" y1="267.36" x2="89.34" y2="267.36" stroke="#909090" stroke-width="0.6"/>
<line x1="86.94" y1="280.64" x2="89.34" y2="280.64" stroke="#909090" stroke-width="0.6"/>
<line x1="92.96" y1="265.36" x2="92.96" y2="278.98" stroke="#909090" stroke-width="0.6"/>
<line x1="91.76" y1="265.36" x2="94.16" y2="265.36" stroke="#909090" stroke-width="0.6"/>
<line x1="91.76" y1="278.98" x2="94.16" y2="278.98" stroke="#909090" stroke-width="0.6"/>
<line x1="97.78" y1="257.86" x2="97.78" y2="271.83" stroke="#909090" stroke-width="0.6"/>
<line x1="96.58" y1="257.86" x2="98.98" y2="257.86" stroke="#909090" stroke-width="0.6"/>
<line x1="96.58" y1="271.83" x2="98.98" y2="271.83" stroke="#909090" stroke-width="0.6"/>
<line x1="102.60" y1="261.35" x2="102.60" y2="275.66" stroke="#909090" stroke-width="0.6"/>
<line x1="101.40" y1="261.35" x2="103.80" y2="261.35" stroke="#909090" stroke-width="0.6"/>
<line x1="101.40" y1="275.66" x2="103.80" y2="275.66" stroke="#909090" stroke-width="0.6"/>
<line x1="107.42" y1="258.32" x2="107.42" y2="272.97" stroke="#909090" stroke-width="0.6"/>
<line x1="106.22" y1="258.32" x2="108.62" y2="258.32" stroke="#909090" stroke-width="0.6"/>
<line x1="106.22" y1="272.97" x2="108.62" y2="272.97" stroke="#909090" stroke-width="0.6"/>
<line x1="112.24" y1="255.51" x2="112.24" y2="270.51" stroke="#909090" stroke-width="0.6"/>
<line x1="111.04" y1="255.51" x2="113.44" y2="255.51" stroke="#909090" stroke-width="0.6"/>
<line x1="111.04" y1="270.51" x2="113.44" y2="270.51" stroke="#909090" stroke-width="0.6"/>
<line x1="117.06" y1="252.25" x2="117.06" y2="267.59" stroke="#909090" stroke-width="0.6"/>
<line x1="115.86" y1="252.25" x2="118.26" y2="252.25" stroke="#909090" stroke-width="0.6"/>
<line x1="115.86" y1="267.59" x2="118.26" y2="267.59" stroke="#909090" stroke-width="0.6"/>
<line x1="121.88" y1="249.79" x2="121.88" y2="265.47" stroke="#909090" stroke-width="0.6"/>
<line x1="120.68" y1="249.79" x2="123.08" y2="249.79" stroke="#909090" stroke-width="0.6"/>
<line x1="120.68" y1="265.47" x2="123.08" y2="265.47" stroke="#909090" stroke-width="0.6"/>
<line x1="126.70" y1="241.94" x2="126.70" y2="257.97" stroke="#909090" stroke-width="0.6"/>
<line x1="125.50" y1="241.94" x2="127.90" y2="241.94" stroke="#909090" stroke-width="0.6"/>
<line x1="125.50" y1="257.97" x2="127.90" y2="257.97" stroke="#909090" stroke-width="0.6"/>
<line x1="131.52" y1="242.80" x2="131.52" y2="259.18" stroke="#909090" stroke-width="0.6"/>
<line x1="130.32" y1="242.80" x2="132.72" y2="242.80" stroke="#909090" stroke-width="0.6"/>
<line x1="130.32" y1="259.18" x2="132.72" y2="259.18" stroke="#909090" stroke-width="0.6"/>
<line x1="141.16" y1="245.66" x2="141.16" y2="262.73" stroke="#909090" stroke-width="0.6"/>
<line x1="139.96" y1="245.66" x2="142.36" y2="245.66" stroke="#909090" stroke-width="0.6"/>
<line x1="139.96" y1="262.73" x2="142.36" y2="262.73" stroke="#909090" stroke-width="0.6"/>
<line x1="145.98" y1="232.90" x2="145.98" y2="250.30" stroke="#909090" stroke-width="0.6"/>
<line x1="144.78" y1="232.90" x2="147.18" y2="232.90" stroke="#909090" stroke-width="0.6"/>
<line x1="144.78" y1="250.30" x2="147.18" y2="250.30" stroke="#909090" stroke-width="0.6"/>
<line x1="150.80" y1="236.16" x2="150.80" y2="253.91" stroke="#909090" stroke-width="0.6"/>
<line x1="149.60" y1="236.16" x2="152.00" y2="236.16" stroke="#909090" stroke-width="0.6"/>
<line x1="149.60" y1="253.91" x2="152.00" y2="253.91" stroke="#909090" stroke-width="0.6"/>
<line x1="155.62" y1="225.00" x2="155.62" y2="243.09" stroke="#909090" stroke-width="0.6"/>
<line x1="154.42" y1="225.00" x2="156.82" y2="225.00" stroke="#909090" stroke-width="0.6"/>
<line x1="154.42" y1="243.09" x2="156.82" y2="243.09" stroke="#909090" stroke-width="0.6"/>
<line x1="165.26" y1="222.36" x2="165.26" y2="241.14" stroke="#909090" stroke-width="0.6"/>
<line x1="164.06" y1="222.36" x2="166.46" y2="222.36" stroke="#909090" stroke-width="0.6"/>
<line x1="164.06" y1="241.14" x2="166.46" y2="241.14" stroke="#909090" stroke-width="0.6"/>
<line x1="170.08" y1="218.99" x2="170.08" y2="238.11" stroke="#909090" stroke-width="0.6"/>
<line x1="168.88" y1="218.99" x2="171.28" y2="218.99" stroke="#909090" stroke-width="0.6"/>
<line x1="168.88" y1="238.11" x2="171.28" y2="238.11" stroke="#909090" stroke-width="0.6"/>
<line x1="174.90" y1="218.24" x2="174.90" y2="237.71" stroke="#909090" stroke-width="0.6"/>
<line x1="173.70" y1="218.24" x2="176.10" y2="218.24" stroke="#909090" stroke-width="0.6"/>
<line x1="173.70" y1="237.71" x2="176.10" y2="237.71" stroke="#909090" stroke-width="0.6"/>
<line x1="179.72" y1="212.23" x2="179.72" y2="232.04" stroke="#909090" stroke-width="0.6"/>
<line x1="178.52" y1="212.23" x2="180.92" y2="212.23" stroke="#909090" stroke-width="0.6"/>
<line x1="178.52" y1="232.04" x2="180.92" y2="232.04" stroke="#909090" stroke-width="0.6"/>
<polyline points="30.30,294.50 35.12,286.71 39.94,286.83 44.76,287.40 49.58,286.83 54.40,289.00 59.22,285.45 64.04,282.02 68.86,277.10 73.68,281.68 78.50,274.00 83.32,275.95 88.14,274.00 92.96,272.17 97.78,264.84 102.60,268.51 107.42,265.64 112.24,263.01 117.06,259.92 121.88,257.63 126.70,249.96 131.52,250.99 141.16,254.19 145.98,241.60 150.80,245.04 155.62,234.04 165.26,231.75 170.08,228.55 174.90,227.97 179.72,222.13" fill="none" stroke="#222" stroke-width="0.6"/>
<circle cx="30.30" cy="297.70" r="1.20" fill="#c8c8c8"/>
<circle cx="35.12" cy="296.56" r="1.20" fill="#c8c8c8"/>
<circle cx="39.94" cy="296.56" r="1.20" fill="#c8c8c8"/>
<circle cx="44.76" cy="296.56" r="1.20" fill="#c8c8c8"/>
<circle cx="49.58" cy="296.56" r="1.20" fill="#c8c8c8"/>
<circle cx="54.40" cy="296.56" r="1.20" fill="#c8c8c8"/>
<circle cx="59.22" cy="296.56" r="1.20" fill="#c8c8c8"/>
<circle cx="64.04" cy="296.56" r="1.20" fill="#c8c8c8"/>
<circle cx="68.86" cy="295.42" r="1.20" fill="#c8c8c8"/>
<circle cx="73.68" cy="295.42" r="1.20" fill="#c8c8c8"/>
<circle cx="78.50" cy="293.12" r="1.20" fill="#c8c8c8"/>
<circle cx="83.32" cy="290.84" r="1.20" fill="#c8c8c8"/>
<circle cx="88.14" cy="290.84" r="1.20" fill="#c8c8c8"/>
<circle cx="92.96" cy="289.69" r="1.20" fill="#c8c8c8"/>
<circle cx="97.78" cy="288.55" r="1.20" fill="#c8c8c8"/>
<circle cx="102.60" cy="287.40" r="1.20" fill="#c8c8c8"/>
<circle cx="107.42" cy="286.25" r="1.20" fill="#c8c8c8"/>
<circle cx="112.24" cy="285.11" r="1.20" fill="#c8c8c8"/>
<circle cx="117.06" cy="285.11" r="1.20" fill="#c8c8c8"/>
<circle cx="121.88" cy="282.82" r="1.20" fill="#c8c8c8"/>
<circle cx="126.70" cy="280.53" r="1.20" fill="#c8c8c8"/>
<circle cx="131.52" cy="273.66" r="1.20" fill="#c8c8c8"/>
<circle cx="136.34" cy="272.51" r="1.20" fill="#c8c8c8"/>
<circle cx="141.16" cy="269.08" r="1.20" fill="#c8c8c8"/>
<circle cx="145.98" cy="262.21" r="1.20" fill="#c8c8c8"/>
<circle cx="150.80" cy="264.50" r="1.20" fill="#c8c8c8"/>
<circle cx="155.62" cy="262.21" r="1.20" fill="#c8c8c8"/>
<circle cx="160.44" cy="258.78" r="1.20" fill="#c8c8c8"/>
<circle cx="165.26" cy="255.34" r="1.20" fill="#c8c8c8"/>
<circle cx="170.08" cy="253.05" r="1.20" fill="#c8c8c8"/>
<circle cx="174.90" cy="253.05" r="1.20" fill="#c8c8c8"/>
<circle cx="179.72" cy="247.33" r="1.20" fill="#c8c8c8"/>
<circle cx="30.30" cy="295.42" r="1.30" fill="#808080"/>
<circle cx="35.12" cy="294.27" r="1.30" fill="#808080"/>
<circle cx="39.94" cy="294.27" r="1.30" fill="#808080"/>
<circle cx="44.76" cy="294.27" r="1.30" fill="#808080"/>
<circle cx="49.58" cy="294.27" r="1.30" fill="#808080"/>
<circle cx="54.40" cy="295.42" r="1.30" fill="#808080"/>
<circle cx="59.22" cy="294.27" r="1.30" fill="#808080"/>
<circle cx="64.04" cy="294.27" r="1.30" fill="#808080"/>
<circle cx="68.86" cy="294.27" r="1.30" fill="#808080"/>
<circle cx="73.68" cy="293.12" r="1.30" fill="#808080"/>
<circle cx="78.50" cy="290.84" r="1.30" fill="#808080"/>
<circle cx="83.32" cy="288.55" r="1.30" fill="#808080"/>
<circle cx="88.14" cy="288.55" r="1.30" fill="#808080"/>
<circle cx="92.96" cy="287.40" r="1.30" fill="#808080"/>
<circle cx="97.78" cy="286.25" r="1.30" fill="#808080"/>
<circle cx="102.60" cy="285.11" r="1.30" fill="#808080"/>
<circle cx="107.42" cy="282.82" r="1.30" fill="#808080"/>
<circle cx="112.24" cy="281.68" r="1.30" fill="#808080"/>
<circle cx="117.06" cy="281.68" r="1.30" fill="#808080"/>
<circle cx="121.88" cy="278.24" r="1.30" fill="#808080"/>
<circle cx="126.70" cy="275.95" r="1.30" fill="#808080"/>
<circle cx="131.52" cy="267.94" r="1.30" fill="#808080"/>
<circle cx="136.34" cy="266.79" r="1.30" fill="#808080"/>
<circle cx="141.16" cy="263.36" r="1.30" fill="#808080"/>
<circle cx="145.98" cy="256.49" r="1.30" fill="#808080"/>
<circle cx="150.80" cy="259.92" r="1.30" fill="#808080"/>
<circle cx="155.62" cy="256.49" r="1.30" fill="#808080"/>
<circle cx="160.44" cy="254.19" r="1.30" fill="#808080"/>
<circle cx="165.26" cy="250.76" r="1.30" fill="#808080"/>
<circle cx="170.08" cy="247.33" r="1.30" fill="#808080"/>
<circle cx="174.90" cy="250.76" r="1.30" fill="#808080"/>
<circle cx="179.72" cy="243.89" r="1.30" fill="#808080"/>
<polygon points="28.90,294.16 31.70,294.16 30.30,296.68" fill="#303030"/>
<polygon points="33.72,289.58 36.52,289.58 35.12,292.10" fill="#303030"/>
<polygon points="38.54,289.58 41.34,289.58 39.94,292.10" fill="#303030"/>
<polygon points="43.36,289.58 46.16,289.58 44.76,292.10" fill="#303030"/>
<polygon points="48.18,289.58 50.98,289.58 49.58,292.10" fill="#303030"/>
<polygon points="53.00,290.72 55.80,290.72 54.40,293.24" fill="#303030"/>
<polygon points="57.82,289.58 60.62,289.58 59.22,292.10" fill="#303030"/>
<polygon points="62.64,289.58 65.44,289.58 64.04,292.10" fill="#303030"/>
<polygon points="67.46,288.43 70.26,288.43 68.86,290.95" fill="#303030"/>
<polygon points="72.28,288.43 75.08,288.43 73.68,290.95" fill="#303030"/>
<polygon points="77.10,287.29 79.90,287.29 78.50,289.81" fill="#303030"/>
<polygon points="81.92,285.00 84.72,285.00 83.32,287.51" fill="#303030"/>
<polygon points="86.74,285.00 89.54,285.00 88.14,287.51" fill="#303030"/>
<polygon points="91.56,283.85 94.36,283.85 92.96,286.37" fill="#303030"/>
<polygon points="96.38,282.71 99.18,282.71 97.78,285.23" fill="#303030"/>
<polygon points="101.20,281.56 104.00,281.56 102.60,284.08" fill="#303030"/>
<polygon points="106.02,279.27 108.82,279.27 107.42,281.79" fill="#303030"/>
<polygon points="110.84,278.12 113.64,278.12 112.24,280.64" fill="#303030"/>
<polygon points="115.66,279.27 118.46,279.27 117.06,281.79" fill="#303030"/>
<polygon points="120.48,275.84 123.28,275.84 121.88,278.36" fill="#303030"/>
<polygon points="125.30,273.55 128.10,273.55 126.70,276.06" fill="#303030"/>
<polygon points="130.12,263.24 132.92,263.24 131.52,265.76" fill="#303030"/>
<polygon points="134.94,262.10 137.74,262.10 136.34,264.62" fill="#303030"/>
<polygon points="139.76,258.66 142.56,258.66 141.16,261.18" fill="#303030"/>
<polygon points="144.58,251.79 147.38,251.79 145.98,254.31" fill="#303030"/>
<polygon points="149.40,255.23 152.20,255.23 150.80,257.75" fill="#303030"/>
<polygon points="154.22,252.94 157.02,252.94 155.62,255.45" fill="#303030"/>
<polygon points="159.04,250.65 161.84,250.65 160.44,253.16" fill="#303030"/>
<polygon points="163.86,246.07 166.66,246.07 165.26,248.59" fill="#303030"/>
<polygon points="168.68,242.63 171.48,242.63 170.08,245.15" fill="#303030"/>
<polygon points="173.50,247.21 176.30,247.21 174.90,249.73" fill="#303030"/>
<polygon points="178.32,239.20 181.12,239.20 179.72,241.72" fill="#303030"/>
<rect x="28.85" y="293.05" width="2.90" height="2.90" fill="#000"/>
<rect x="33.67" y="285.26" width="2.90" height="2.90" fill="#000"/>
<rect x="38.49" y="285.38" width="2.90" height="2.90" fill="#000"/>
<rect x="43.31" y="285.95" width="2.90" height="2.90" fill="#000"/>
<rect x="48.13" y="285.38" width="2.90" height="2.90" fill="#000"/>
<rect x="52.95" y="287.55" width="2.90" height="2.90" fill="#000"/>
<rect x="57.77" y="284.00" width="2.90" height="2.90" fill="#000"/>
<rect x="62.59" y="280.57" width="2.90" height="2.90" fill="#000"/>
<rect x="67.41" y="275.65" width="2.90" height="2.90" fill="#000"/>
<rect x="72.23" y="280.23" width="2.90" height="2.90" fill="#000"/>
<rect x="77.05" y="272.55" width="2.90" height="2.90" fill="#000"/>
<rect x="81.87" y="274.50" width="2.90" height="2.90" fill="#000"/>
<rect x="86.69" y="272.55" width="2.90" height="2.90" fill="#000"/>
<rect x="91.51" y="270.72" width="2.90" height="2.90" fill="#000"/>
<rect x="96.33" y="263.39" width="2.90" height="2.90" fill="#000"/>
<rect x="101.15" y="267.06" width="2.90" height="2.90" fill="#000"/>
<rect x="105.97" y="264.19" width="2.90" height="2.90" fill="#000"/>
<rect x="110.79" y="261.56" width="2.90" height="2.90" fill="#000"/>
<rect x="115.61" y="258.47" width="2.90" height="2.90" fill="#000"/>
<rect x="120.43" y="256.18" width="2.90" height="2.90" fill="#000"/>
<rect x="125.25" y="248.51" width="2.90" height="2.90" fill="#000"/>
<rect x="130.07" y="249.54" width="2.90" height="2.90" fill="#000"/>
<rect x="139.71" y="252.75" width="2.90" height="2.90" fill="#000"/>
<rect x="144.53" y="240.15" width="2.90" height="2.90" fill="#000"/>
<rect x="149.35" y="243.59" width="2.90" height="2.90" fill="#000"/>
<rect x="154.17" y="232.59" width="2.90" height="2.90" fill="#000"/>
<rect x="163.81" y="230.30" width="2.90" height="2.90" fill="#000"/>
<rect x="168.63" y="227.10" width="2.90" height="2.90" fill="#000"/>
<rect x="173.45" y="226.52" width="2.90" height="2.90" fill="#000"/>
<rect x="178.27" y="220.69" width="2.90" height="2.90" fill="#000"/>
<line x1="30.30" y1="211.50" x2="30.30" y2="310.90" stroke="#000" stroke-width="1.2"/>
<line x1="29.70" y1="310.30" x2="185.30" y2="310.30" stroke="#000" stroke-width="1.2"/>
<line x1="27.10" y1="310.30" x2="30.30" y2="310.30" stroke="#000" stroke-width="1.2"/>
<text x="26.00" y="313.00" font-size="7.5" font-weight="bold" text-anchor="end" fill="#000" textLength="3.45" lengthAdjust="spacingAndGlyphs">0</text>
<line x1="27.10" y1="287.40" x2="30.30" y2="287.40" stroke="#000" stroke-width="1.2"/>
<text x="26.00" y="290.10" font-size="7.5" font-weight="bold" text-anchor="end" fill="#000" textLength="6.90" lengthAdjust="spacingAndGlyphs">20</text>
<line x1="27.10" y1="264.50" x2="30.30" y2="264.50" stroke="#000" stroke-width="1.2"/>
<text x="26.00" y="267.20" font-size="7.5" font-weight="bold" text-anchor="end" fill="#000" textLength="6.90" lengthAdjust="spacingAndGlyphs">40</text>
<line x1="27.10" y1="241.60" x2="30.30" y2="241.60" stroke="#000" stroke-width="1.2"/>
<text x="26.00" y="244.30" font-size="7.5" font-weight="bold" text-anchor="end" fill="#000" textLength="6.90" lengthAdjust="spacingAndGlyphs">60</text>
<line x1="27.10" y1="218.70" x2="30.30" y2="218.70" stroke="#000" stroke-width="1.2"/>
<text x="26.00" y="221.40" font-size="7.5" font-weight="bold" text-anchor="end" fill="#000" textLength="6.90" lengthAdjust="spacingAndGlyphs">80</text>
<line x1="30.30" y1="310.30" x2="30.30" y2="313.20" stroke="#000" stroke-width="1.2"/>
<text x="30.30" y="321.10" font-size="7.5" font-weight="bold" text-anchor="middle" fill="#000" textLength="3.45" lengthAdjust="spacingAndGlyphs">0</text>
<line x1="78.50" y1="310.30" x2="78.50" y2="313.20" stroke="#000" stroke-width="1.2"/>
<text x="78.50" y="321.10" font-size="7.5" font-weight="bold" text-anchor="middle" fill="#000" textLength="6.90" lengthAdjust="spacingAndGlyphs">20</text>
<line x1="126.70" y1="310.30" x2="126.70" y2="313.20" stroke="#000" stroke-width="1.2"/>
<text x="126.70" y="321.10" font-size="7.5" font-weight="bold" text-anchor="middle" fill="#000" textLength="6.90" lengthAdjust="spacingAndGlyphs">40</text>
<line x1="174.90" y1="310.30" x2="174.90" y2="313.20" stroke="#000" stroke-width="1.2"/>
<text x="174.90" y="321.10" font-size="7.5" font-weight="bold" text-anchor="middle" fill="#000" textLength="6.90" lengthAdjust="spacingAndGlyphs">60</text>
<text x="104.30" y="326.43" font-size="8.7" font-weight="bold" text-anchor="middle" fill="#000" textLength="29.60" lengthAdjust="spacingAndGlyphs">Time (h)</text>
<text x="14.10" y="262.24" font-size="7.6" font-weight="bold" text-anchor="middle" fill="#000" transform="rotate(-90 14.10 259.50)" textLength="49.00" lengthAdjust="spacingAndGlyphs">% confluence</text>
<line x1="37.00" y1="185.00" x2="46.00" y2="185.00" stroke="#d0d0d0" stroke-width="0.6"/>
<circle cx="41.50" cy="185.00" r="1.20" fill="#c8c8c8"/>
<text x="52.60" y="188.17" font-size="8.8" font-weight="bold" text-anchor="start" fill="#000">1</text>
<text x="60.40" y="187.48" font-size="6.9" font-weight="normal" text-anchor="start" fill="#000" textLength="36.00" lengthAdjust="spacingAndGlyphs">serum 0.2%</text>
<line x1="37.00" y1="194.00" x2="46.00" y2="194.00" stroke="#222" stroke-width="0.6"/>
<rect x="40.20" y="192.70" width="2.60" height="2.60" fill="#000"/>
<text x="52.60" y="197.17" font-size="8.8" font-weight="bold" text-anchor="start" fill="#000">2</text>
<text x="60.40" y="196.48" font-size="6.9" font-weight="normal" text-anchor="start" fill="#000" textLength="44.60" lengthAdjust="spacingAndGlyphs">FGF2 20ng/ml</text>
<line x1="37.00" y1="205.00" x2="46.00" y2="205.00" stroke="#9a9a9a" stroke-width="0.6"/>
<circle cx="41.50" cy="205.00" r="1.30" fill="#808080"/>
<text x="52.60" y="208.17" font-size="8.8" font-weight="bold" text-anchor="start" fill="#000">3</text>
<text x="60.40" y="207.48" font-size="6.9" font-weight="normal" text-anchor="start" fill="#000" textLength="54.20" lengthAdjust="spacingAndGlyphs">LYVE-1 250ng/ml</text>
<line x1="37.00" y1="215.60" x2="46.00" y2="215.60" stroke="#707070" stroke-width="0.6"/>
<polygon points="40.10,214.34 42.90,214.34 41.50,216.86" fill="#303030"/>
<text x="52.60" y="218.77" font-size="8.8" font-weight="bold" text-anchor="start" fill="#000">4</text>
<text x="60.40" y="218.08" font-size="6.9" font-weight="normal" text-anchor="start" fill="#000" textLength="106.00" lengthAdjust="spacingAndGlyphs">FGF2 20ng/ml &amp; LYVE-1 250ng/ml</text>
<rect x="204.20" y="213.35" width="14.00" height="33.15" fill="#000"/>
<line x1="211.20" y1="211.07" x2="211.20" y2="213.35" stroke="#888" stroke-width="0.6"/>
<line x1="207.70" y1="211.07" x2="214.70" y2="211.07" stroke="#888" stroke-width="0.6"/>
<rect x="224.10" y="195.15" width="14.00" height="51.35" fill="#000"/>
<line x1="231.10" y1="194.18" x2="231.10" y2="195.15" stroke="#888" stroke-width="0.6"/>
<line x1="227.60" y1="194.18" x2="234.60" y2="194.18" stroke="#888" stroke-width="0.6"/>
<rect x="244.50" y="207.89" width="14.00" height="38.61" fill="#000"/>
<line x1="251.50" y1="203.60" x2="251.50" y2="207.89" stroke="#888" stroke-width="0.6"/>
<line x1="248.00" y1="203.60" x2="255.00" y2="203.60" stroke="#888" stroke-width="0.6"/>
<rect x="264.10" y="205.55" width="14.00" height="40.95" fill="#000"/>
<line x1="271.10" y1="204.90" x2="271.10" y2="205.55" stroke="#888" stroke-width="0.6"/>
<line x1="267.60" y1="204.90" x2="274.60" y2="204.90" stroke="#888" stroke-width="0.6"/>
<line x1="201.20" y1="181.50" x2="201.20" y2="246.50" stroke="#333" stroke-width="1.2"/>
<line x1="198.60" y1="246.50" x2="279.40" y2="246.50" stroke="#333" stroke-width="1.2"/>
<line x1="200.00" y1="246.50" x2="201.20" y2="246.50" stroke="#000" stroke-width="0.6"/>
<text x="199.80" y="247.87" font-size="3.8" font-weight="bold" text-anchor="end" fill="#000">0</text>
<line x1="200.00" y1="233.50" x2="201.20" y2="233.50" stroke="#000" stroke-width="0.6"/>
<text x="199.80" y="234.87" font-size="3.8" font-weight="bold" text-anchor="end" fill="#000">20</text>
<line x1="200.00" y1="220.50" x2="201.20" y2="220.50" stroke="#000" stroke-width="0.6"/>
<text x="199.80" y="221.87" font-size="3.8" font-weight="bold" text-anchor="end" fill="#000">40</text>
<line x1="200.00" y1="207.50" x2="201.20" y2="207.50" stroke="#000" stroke-width="0.6"/>
<text x="199.80" y="208.87" font-size="3.8" font-weight="bold" text-anchor="end" fill="#000">60</text>
<line x1="200.00" y1="194.50" x2="201.20" y2="194.50" stroke="#000" stroke-width="0.6"/>
<text x="199.80" y="195.87" font-size="3.8" font-weight="bold" text-anchor="end" fill="#000">80</text>
<line x1="200.00" y1="181.50" x2="201.20" y2="181.50" stroke="#000" stroke-width="0.6"/>
<text x="199.80" y="182.87" font-size="3.8" font-weight="bold" text-anchor="end" fill="#000">100</text>
<line x1="211.20" y1="246.50" x2="211.20" y2="248.00" stroke="#000" stroke-width="0.6"/>
<line x1="231.10" y1="246.50" x2="231.10" y2="248.00" stroke="#000" stroke-width="0.6"/>
<line x1="251.50" y1="246.50" x2="251.50" y2="248.00" stroke="#000" stroke-width="0.6"/>
<line x1="271.10" y1="246.50" x2="271.10" y2="248.00" stroke="#000" stroke-width="0.6"/>
<text x="209.60" y="263.48" font-size="9.4" font-weight="normal" text-anchor="middle" fill="#000">1</text>
<text x="229.70" y="263.48" font-size="9.4" font-weight="normal" text-anchor="middle" fill="#000">2</text>
<text x="249.80" y="263.48" font-size="9.4" font-weight="normal" text-anchor="middle" fill="#000">3</text>
<text x="269.90" y="263.48" font-size="9.4" font-weight="normal" text-anchor="middle" fill="#000">4</text>
<text x="188.60" y="214.59" font-size="5.8" font-weight="normal" text-anchor="middle" fill="#000" transform="rotate(-90 188.60 212.50)" textLength="35.00" lengthAdjust="spacingAndGlyphs">% confluence</text>
<text x="236.50" y="178.75" font-size="6.8" font-weight="normal" text-anchor="middle" fill="#000" textLength="9.10" lengthAdjust="spacingAndGlyphs">62h</text>
<line x1="210.80" y1="193.30" x2="232.10" y2="193.30" stroke="#777" stroke-width="0.7"/>
<circle cx="221.60" cy="190.40" r="0.80" fill="#222"/>
<line x1="233.50" y1="185.50" x2="277.00" y2="185.50" stroke="#777" stroke-width="0.7"/>
<circle cx="254.40" cy="182.80" r="0.80" fill="#222"/>
<line x1="232.70" y1="191.60" x2="255.70" y2="191.60" stroke="#777" stroke-width="0.7"/>
<circle cx="242.50" cy="189.30" r="0.80" fill="#222"/>
<defs>
<pattern id="chk" width="3.6" height="3.6" patternUnits="userSpaceOnUse"><rect width="3.6" height="3.6" fill="#fff"/><rect x="0.1" y="0.1" width="1.6" height="1.6" fill="#000"/><rect x="1.9" y="1.9" width="1.6" height="1.6" fill="#000"/></pattern>
<pattern id="str" width="4" height="2" patternUnits="userSpaceOnUse"><rect width="4" height="2" fill="#c4c4c4"/><rect y="1.2" width="4" height="0.7" fill="#8a8a8a"/></pattern>
<pattern id="sol" width="2" height="2" patternUnits="userSpaceOnUse"><rect width="2" height="2" fill="#9a9a9a"/><rect width="1" height="1" fill="#8a8a8a"/></pattern>
</defs>
<line x1="363.10" y1="214.81" x2="363.10" y2="218.49" stroke="#000" stroke-width="1.0"/>
<line x1="360.10" y1="214.81" x2="366.10" y2="214.81" stroke="#000" stroke-width="1.0"/>
<rect x="357.10" y="218.49" width="12.0" height="77.31" fill="url(#sol)" stroke="#000" stroke-width="1.1"/>
<line x1="381.30" y1="244.96" x2="381.30" y2="251.43" stroke="#000" stroke-width="1.0"/>
<line x1="378.30" y1="244.96" x2="384.30" y2="244.96" stroke="#000" stroke-width="1.0"/>
<rect x="375.30" y="251.43" width="12.0" height="44.37" fill="url(#sol)" stroke="#000" stroke-width="1.1"/>
<line x1="411.00" y1="219.47" x2="411.00" y2="222.33" stroke="#000" stroke-width="1.0"/>
<line x1="408.00" y1="219.47" x2="414.00" y2="219.47" stroke="#000" stroke-width="1.0"/>
<rect x="405.00" y="222.33" width="12.0" height="73.47" fill="url(#chk)" stroke="#000" stroke-width="1.1"/>
<line x1="429.20" y1="233.91" x2="429.20" y2="236.39" stroke="#000" stroke-width="1.0"/>
<line x1="426.20" y1="233.91" x2="432.20" y2="233.91" stroke="#000" stroke-width="1.0"/>
<rect x="423.20" y="236.39" width="12.0" height="59.41" fill="url(#chk)" stroke="#000" stroke-width="1.1"/>
<line x1="459.70" y1="217.59" x2="459.70" y2="218.72" stroke="#000" stroke-width="1.0"/>
<line x1="456.70" y1="217.59" x2="462.70" y2="217.59" stroke="#000" stroke-width="1.0"/>
<rect x="453.70" y="218.72" width="12.0" height="77.08" fill="url(#str)" stroke="#000" stroke-width="1.1"/>
<line x1="477.50" y1="242.56" x2="477.50" y2="243.16" stroke="#000" stroke-width="1.0"/>
<line x1="474.50" y1="242.56" x2="480.50" y2="242.56" stroke="#000" stroke-width="1.0"/>
<rect x="471.50" y="243.16" width="12.0" height="52.64" fill="url(#str)" stroke="#000" stroke-width="1.1"/>
<line x1="348.30" y1="205.00" x2="348.30" y2="296.30" stroke="#000" stroke-width="1.0"/>
<line x1="344.70" y1="295.80" x2="492.40" y2="295.80" stroke="#000" stroke-width="1.0"/>
<line x1="345.80" y1="295.80" x2="348.30" y2="295.80" stroke="#000" stroke-width="0.9"/>
<text x="345.00" y="298.10" font-size="6.4" font-weight="normal" text-anchor="end" fill="#000">0</text>
<line x1="345.80" y1="258.20" x2="348.30" y2="258.20" stroke="#000" stroke-width="0.9"/>
<text x="345.00" y="260.50" font-size="6.4" font-weight="normal" text-anchor="end" fill="#000">50</text>
<line x1="345.80" y1="220.60" x2="348.30" y2="220.60" stroke="#000" stroke-width="0.9"/>
<text x="345.00" y="222.90" font-size="6.4" font-weight="normal" text-anchor="end" fill="#000">100</text>
<line x1="363.10" y1="295.80" x2="363.10" y2="298.00" stroke="#000" stroke-width="0.9"/>
<line x1="381.30" y1="295.80" x2="381.30" y2="298.00" stroke="#000" stroke-width="0.9"/>
<line x1="411.00" y1="295.80" x2="411.00" y2="298.00" stroke="#000" stroke-width="0.9"/>
<line x1="429.20" y1="295.80" x2="429.20" y2="298.00" stroke="#000" stroke-width="0.9"/>
<line x1="459.70" y1="295.80" x2="459.70" y2="298.00" stroke="#000" stroke-width="0.9"/>
<line x1="477.50" y1="295.80" x2="477.50" y2="298.00" stroke="#000" stroke-width="0.9"/>
<text x="328.80" y="253.93" font-size="7.3" font-weight="bold" text-anchor="middle" fill="#000" transform="rotate(-90 328.80 251.30)" textLength="96.00" lengthAdjust="spacingAndGlyphs">Phospho ERK/total ERK (%)</text>
<text x="343.70" y="309.58" font-size="9.1" font-weight="normal" text-anchor="end" fill="#000" textLength="61.20" lengthAdjust="spacingAndGlyphs">FGF2, 20ng/ml</text>
<text x="343.70" y="319.68" font-size="9.1" font-weight="normal" text-anchor="end" fill="#000" textLength="70.70" lengthAdjust="spacingAndGlyphs">LYVE-1,250ng/ml</text>
<text x="361.60" y="309.62" font-size="8.4" font-weight="bold" text-anchor="middle" fill="#000">+</text>
<line x1="360.20" y1="315.60" x2="363.00" y2="315.60" stroke="#000" stroke-width="1.0"/>
<text x="382.00" y="309.62" font-size="8.4" font-weight="bold" text-anchor="middle" fill="#000">+</text>
<text x="382.00" y="320.02" font-size="8.4" font-weight="bold" text-anchor="middle" fill="#000">+</text>
<text x="410.40" y="309.62" font-size="8.4" font-weight="bold" text-anchor="middle" fill="#000">+</text>
<line x1="409.00" y1="315.60" x2="411.80" y2="315.60" stroke="#000" stroke-width="1.0"/>
<text x="428.90" y="309.62" font-size="8.4" font-weight="bold" text-anchor="middle" fill="#000">+</text>
<text x="428.90" y="320.02" font-size="8.4" font-weight="bold" text-anchor="middle" fill="#000">+</text>
<text x="456.50" y="309.62" font-size="8.4" font-weight="bold" text-anchor="middle" fill="#000">+</text>
<line x1="455.10" y1="315.60" x2="457.90" y2="315.60" stroke="#000" stroke-width="1.0"/>
<text x="477.40" y="309.62" font-size="8.4" font-weight="bold" text-anchor="middle" fill="#000">+</text>
<text x="477.40" y="320.02" font-size="8.4" font-weight="bold" text-anchor="middle" fill="#000">+</text>
<circle cx="380.80" cy="236.20" r="1.10" fill="#111"/>
<circle cx="429.30" cy="223.50" r="1.10" fill="#111"/>
<circle cx="474.30" cy="232.60" r="1.15" fill="#111"/>
<circle cx="477.60" cy="232.60" r="1.15" fill="#111"/>
<circle cx="480.90" cy="232.60" r="1.15" fill="#111"/>
<rect x="480.9" y="197.00" width="10.6" height="5.0" rx="0.8" fill="url(#sol)" stroke="#000" stroke-width="1.3"/>
<text x="496.40" y="202.26" font-size="7.1" font-weight="normal" text-anchor="start" fill="#000" textLength="15.40" lengthAdjust="spacingAndGlyphs">5min</text>
<rect x="480.9" y="207.50" width="10.6" height="5.0" rx="0.8" fill="url(#chk)" stroke="#000" stroke-width="1.3"/>
<text x="496.40" y="212.76" font-size="7.1" font-weight="normal" text-anchor="start" fill="#000" textLength="19.30" lengthAdjust="spacingAndGlyphs">10min</text>
<rect x="480.9" y="217.90" width="10.6" height="5.0" rx="0.8" fill="url(#str)" stroke="#000" stroke-width="1.3"/>
<text x="496.40" y="223.16" font-size="7.1" font-weight="normal" text-anchor="start" fill="#000" textLength="19.30" lengthAdjust="spacingAndGlyphs">15min</text>
</svg>
</body></html>
